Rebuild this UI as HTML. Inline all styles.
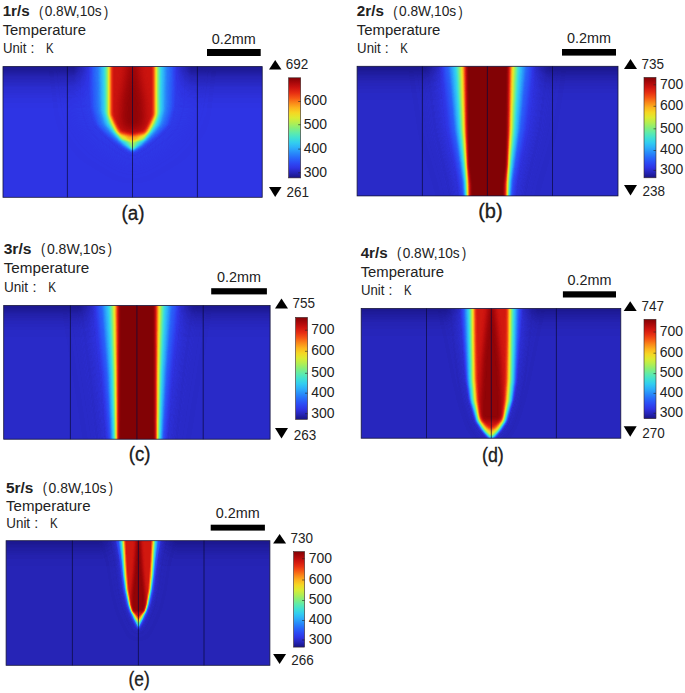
<!DOCTYPE html>
<html><head><meta charset="utf-8"><title>Temperature</title>
<style>html,body{margin:0;padding:0;background:#fff}svg{display:block}text{font-family:"Liberation Sans",sans-serif;fill:#222}</style>
</head><body>
<svg width="685" height="693" viewBox="0 0 685 693">
<defs>
<filter id="jet" x="0" y="0" width="100%" height="100%" filterUnits="objectBoundingBox" color-interpolation-filters="sRGB">
<feComponentTransfer><feFuncR type="table" tableValues="0.094 0.149 0.184 0.173 0.157 0.157 0.176 0.196 0.255 0.373 0.529 0.706 0.863 0.961 0.988 0.980 0.961 0.902 0.804 0.667 0.510"/><feFuncG type="table" tableValues="0.078 0.141 0.204 0.294 0.412 0.549 0.686 0.804 0.882 0.922 0.933 0.933 0.922 0.843 0.706 0.529 0.333 0.176 0.078 0.031 0.008"/><feFuncB type="table" tableValues="0.510 0.714 0.894 0.961 0.980 0.980 0.980 0.941 0.824 0.667 0.471 0.314 0.196 0.137 0.118 0.098 0.078 0.071 0.059 0.039 0.020"/></feComponentTransfer>
</filter>
<linearGradient id="cb" x1="0" y1="0" x2="0" y2="1"><stop offset="0.000" stop-color="rgb(130,2,5)"/><stop offset="0.050" stop-color="rgb(170,8,10)"/><stop offset="0.100" stop-color="rgb(205,20,15)"/><stop offset="0.150" stop-color="rgb(230,45,18)"/><stop offset="0.200" stop-color="rgb(245,85,20)"/><stop offset="0.250" stop-color="rgb(250,135,25)"/><stop offset="0.300" stop-color="rgb(252,180,30)"/><stop offset="0.350" stop-color="rgb(245,215,35)"/><stop offset="0.400" stop-color="rgb(220,235,50)"/><stop offset="0.450" stop-color="rgb(180,238,80)"/><stop offset="0.500" stop-color="rgb(135,238,120)"/><stop offset="0.550" stop-color="rgb(95,235,170)"/><stop offset="0.600" stop-color="rgb(65,225,210)"/><stop offset="0.650" stop-color="rgb(50,205,240)"/><stop offset="0.700" stop-color="rgb(45,175,250)"/><stop offset="0.750" stop-color="rgb(40,140,250)"/><stop offset="0.800" stop-color="rgb(40,105,250)"/><stop offset="0.850" stop-color="rgb(44,75,245)"/><stop offset="0.900" stop-color="rgb(47,52,228)"/><stop offset="0.950" stop-color="rgb(38,36,182)"/><stop offset="1.000" stop-color="rgb(24,20,130)"/></linearGradient>
</defs>
<clipPath id="clip_a"><rect x="3.0" y="66.6" width="259.2" height="130.7"/></clipPath>
<g clip-path="url(#clip_a)"><g filter="url(#jet)">
<rect x="-27.0" y="36.6" width="319.2" height="190.7" fill="rgb(26,26,26)"/>
<polygon points="192.5,46.6 192.5,66.6 186.5,115.0 168.5,140.0 132.5,162.0 132.5,162.0 96.5,140.0 78.5,115.0 72.5,66.6 72.5,46.6" fill="rgb(30,30,30)" filter="url(#b10)"/>
<polygon points="177.5,46.6 177.5,66.6 177.4,69.1 177.3,71.6 177.2,74.1 177.1,76.6 177.0,79.1 176.9,81.6 176.8,84.1 176.7,86.6 176.6,89.1 176.5,91.6 176.4,94.1 176.3,96.6 176.2,99.1 176.1,101.6 176.0,104.1 175.5,106.6 174.8,109.1 174.1,111.6 173.4,114.1 172.6,116.6 171.9,119.1 171.2,121.6 170.4,124.1 167.9,126.6 165.4,129.1 162.9,131.6 159.6,134.1 156.2,136.6 152.7,139.1 149.2,141.6 145.6,144.1 142.1,146.6 137.7,149.1 133.2,151.6 132.5,152.6 132.5,152.6 131.8,151.6 127.3,149.1 122.9,146.6 119.4,144.1 115.8,141.6 112.3,139.1 108.8,136.6 105.4,134.1 102.1,131.6 99.6,129.1 97.1,126.6 94.6,124.1 93.8,121.6 93.1,119.1 92.4,116.6 91.6,114.1 90.9,111.6 90.2,109.1 89.5,106.6 89.0,104.1 88.9,101.6 88.8,99.1 88.7,96.6 88.6,94.1 88.5,91.6 88.4,89.1 88.3,86.6 88.2,84.1 88.1,81.6 88.0,79.1 87.9,76.6 87.8,74.1 87.7,71.6 87.6,69.1 87.5,66.6 87.5,46.6" fill="rgb(33,33,33)" filter="url(#b3_5)"/>
<polygon points="175.0,46.6 175.0,66.6 174.9,69.1 174.8,71.6 174.7,74.1 174.6,76.6 174.6,79.1 174.5,81.6 174.4,84.1 174.3,86.6 174.2,89.1 174.1,91.6 174.0,94.1 173.9,96.6 173.9,99.1 173.8,101.6 173.7,104.1 173.3,106.6 172.7,109.1 172.1,111.6 171.4,114.1 170.6,116.6 169.9,119.1 169.2,121.6 168.4,124.1 166.0,126.6 163.6,129.1 161.1,131.6 158.0,134.1 154.8,136.6 151.6,139.1 148.3,141.6 144.8,144.1 141.3,146.6 137.0,149.1 132.8,151.6 132.5,152.2 132.5,152.2 132.2,151.6 128.0,149.1 123.7,146.6 120.2,144.1 116.7,141.6 113.4,139.1 110.2,136.6 107.0,134.1 103.9,131.6 101.4,129.1 99.0,126.6 96.6,124.1 95.8,121.6 95.1,119.1 94.4,116.6 93.6,114.1 92.9,111.6 92.3,109.1 91.7,106.6 91.3,104.1 91.2,101.6 91.1,99.1 91.1,96.6 91.0,94.1 90.9,91.6 90.8,89.1 90.7,86.6 90.6,84.1 90.5,81.6 90.4,79.1 90.4,76.6 90.3,74.1 90.2,71.6 90.1,69.1 90.0,66.6 90.0,46.6" fill="rgb(41,41,41)" filter="url(#b1_5)"/>
<polygon points="171.7,46.6 171.7,66.6 171.6,69.1 171.5,71.6 171.4,74.1 171.4,76.6 171.3,79.1 171.2,81.6 171.1,84.1 171.1,86.6 171.0,89.1 170.9,91.6 170.8,94.1 170.8,96.6 170.7,99.1 170.6,101.6 170.6,104.1 170.3,106.6 170.0,109.1 169.4,111.6 168.7,114.1 168.0,116.6 167.2,119.1 166.5,121.6 165.7,124.1 163.4,126.6 161.1,129.1 158.8,131.6 156.0,134.1 153.0,136.6 150.1,139.1 147.0,141.6 143.7,144.1 140.3,146.6 136.0,149.1 132.5,151.4 132.5,151.4 129.0,149.1 124.7,146.6 121.3,144.1 118.0,141.6 114.9,139.1 112.0,136.6 109.0,134.1 106.2,131.6 103.9,129.1 101.6,126.6 99.3,124.1 98.5,121.6 97.8,119.1 97.0,116.6 96.3,114.1 95.6,111.6 95.0,109.1 94.7,106.6 94.4,104.1 94.4,101.6 94.3,99.1 94.2,96.6 94.2,94.1 94.1,91.6 94.0,89.1 93.9,86.6 93.9,84.1 93.8,81.6 93.7,79.1 93.6,76.6 93.6,74.1 93.5,71.6 93.4,69.1 93.3,66.6 93.3,46.6" fill="rgb(51,51,51)" filter="url(#b2)"/>
<polygon points="167.5,46.6 167.5,66.6 167.4,69.1 167.4,71.6 167.3,74.1 167.3,76.6 167.2,79.1 167.2,81.6 167.1,84.1 167.0,86.6 167.0,89.1 166.9,91.6 166.9,94.1 166.8,96.6 166.8,99.1 166.7,101.6 166.6,104.1 166.6,106.6 166.5,109.1 166.0,111.6 165.3,114.1 164.6,116.6 163.9,119.1 163.2,121.6 162.4,124.1 160.2,126.6 158.0,129.1 155.8,131.6 153.3,134.1 150.8,136.6 148.2,139.1 145.4,141.6 142.3,144.1 139.0,146.6 134.8,149.1 132.5,150.8 132.5,150.8 130.2,149.1 126.0,146.6 122.7,144.1 119.6,141.6 116.8,139.1 114.2,136.6 111.7,134.1 109.1,131.6 107.0,129.1 104.8,126.6 102.6,124.1 101.8,121.6 101.1,119.1 100.4,116.6 99.7,114.1 99.0,111.6 98.5,109.1 98.4,106.6 98.4,104.1 98.3,101.6 98.2,99.1 98.2,96.6 98.1,94.1 98.1,91.6 98.0,89.1 98.0,86.6 97.9,84.1 97.8,81.6 97.8,79.1 97.7,76.6 97.7,74.1 97.6,71.6 97.6,69.1 97.5,66.6 97.5,46.6" fill="rgb(64,64,64)" filter="url(#b2_5)"/>
<polygon points="164.9,46.6 164.9,66.6 164.9,69.1 164.8,71.6 164.8,74.1 164.7,76.6 164.7,79.1 164.6,81.6 164.6,84.1 164.5,86.6 164.5,89.1 164.4,91.6 164.4,94.1 164.4,96.6 164.3,99.1 164.3,101.6 164.2,104.1 164.2,106.6 164.1,109.1 163.8,111.6 163.1,114.1 162.4,116.6 161.7,119.1 161.0,121.6 160.2,124.1 158.2,126.6 156.1,129.1 154.1,131.6 151.8,134.1 149.4,136.6 147.0,139.1 144.3,141.6 141.4,144.1 138.1,146.6 134.1,149.1 132.5,150.6 132.5,150.6 130.9,149.1 126.9,146.6 123.6,144.1 120.7,141.6 118.0,139.1 115.6,136.6 113.2,134.1 110.9,131.6 108.9,129.1 106.8,126.6 104.8,124.1 104.0,121.6 103.3,119.1 102.6,116.6 101.9,114.1 101.2,111.6 100.9,109.1 100.8,106.6 100.8,104.1 100.7,101.6 100.7,99.1 100.6,96.6 100.6,94.1 100.6,91.6 100.5,89.1 100.5,86.6 100.4,84.1 100.4,81.6 100.3,79.1 100.3,76.6 100.2,74.1 100.2,71.6 100.1,69.1 100.1,66.6 100.1,46.6" fill="rgb(79,79,79)" filter="url(#b1_5)"/>
<polygon points="161.9,46.6 161.9,66.6 161.8,69.1 161.8,71.6 161.8,74.1 161.7,76.6 161.7,79.1 161.7,81.6 161.6,84.1 161.6,86.6 161.6,89.1 161.6,91.6 161.5,94.1 161.5,96.6 161.5,99.1 161.4,101.6 161.4,104.1 161.4,106.6 161.3,109.1 161.2,111.6 160.6,114.1 159.9,116.6 159.1,119.1 158.4,121.6 157.6,124.1 155.7,126.6 153.9,129.1 152.1,131.6 150.0,134.1 147.8,136.6 145.5,139.1 143.0,141.6 140.3,144.1 137.0,146.6 133.3,149.1 132.5,150.2 132.5,150.2 131.7,149.1 128.0,146.6 124.7,144.1 122.0,141.6 119.5,139.1 117.2,136.6 115.0,134.1 112.9,131.6 111.1,129.1 109.3,126.6 107.4,124.1 106.6,121.6 105.9,119.1 105.1,116.6 104.4,114.1 103.8,111.6 103.7,109.1 103.6,106.6 103.6,104.1 103.6,101.6 103.5,99.1 103.5,96.6 103.5,94.1 103.4,91.6 103.4,89.1 103.4,86.6 103.4,84.1 103.3,81.6 103.3,79.1 103.3,76.6 103.2,74.1 103.2,71.6 103.2,69.1 103.1,66.6 103.1,46.6" fill="rgb(97,97,97)" filter="url(#b1_5)"/>
<polygon points="159.7,46.6 159.7,66.6 159.7,69.1 159.7,71.6 159.7,74.1 159.6,76.6 159.6,79.1 159.6,81.6 159.6,84.1 159.6,86.6 159.5,89.1 159.5,91.6 159.5,94.1 159.5,96.6 159.5,99.1 159.4,101.6 159.4,104.1 159.4,106.6 159.4,109.1 159.4,111.6 158.9,114.1 158.1,116.6 157.4,119.1 156.5,121.6 155.6,124.1 154.0,126.6 152.4,129.1 150.7,131.6 148.6,134.1 146.5,136.6 144.4,139.1 139.8,141.6 137.8,144.1 135.4,146.6 132.7,149.1 132.5,149.5 132.5,149.5 132.3,149.1 129.6,146.6 127.2,144.1 125.2,141.6 120.6,139.1 118.5,136.6 116.4,134.1 114.3,131.6 112.6,129.1 111.0,126.6 109.4,124.1 108.5,121.6 107.6,119.1 106.9,116.6 106.1,114.1 105.6,111.6 105.6,109.1 105.6,106.6 105.6,104.1 105.6,101.6 105.5,99.1 105.5,96.6 105.5,94.1 105.5,91.6 105.5,89.1 105.4,86.6 105.4,84.1 105.4,81.6 105.4,79.1 105.4,76.6 105.3,74.1 105.3,71.6 105.3,69.1 105.3,66.6 105.3,46.6" fill="rgb(117,117,117)" filter="url(#b1)"/>
<polygon points="158.0,46.6 158.0,66.6 158.0,69.1 158.0,71.6 158.0,74.1 158.0,76.6 158.0,79.1 158.0,81.6 157.9,84.1 157.9,86.6 157.9,89.1 157.9,91.6 157.9,94.1 157.9,96.6 157.9,99.1 157.9,101.6 157.9,104.1 157.8,106.6 157.8,109.1 157.8,111.6 157.6,114.1 156.9,116.6 156.1,119.1 155.1,121.6 154.1,124.1 152.6,126.6 151.1,129.1 149.5,131.6 147.4,134.1 145.5,136.6 143.4,139.1 136.1,141.6 135.0,144.1 133.7,146.6 132.5,148.5 132.5,148.5 131.3,146.6 130.0,144.1 128.9,141.6 121.6,139.1 119.5,136.6 117.6,134.1 115.5,131.6 113.9,129.1 112.4,126.6 110.9,124.1 109.9,121.6 108.9,119.1 108.1,116.6 107.4,114.1 107.2,111.6 107.2,109.1 107.2,106.6 107.1,104.1 107.1,101.6 107.1,99.1 107.1,96.6 107.1,94.1 107.1,91.6 107.1,89.1 107.1,86.6 107.1,84.1 107.0,81.6 107.0,79.1 107.0,76.6 107.0,74.1 107.0,71.6 107.0,69.1 107.0,66.6 107.0,46.6" fill="rgb(138,138,138)" filter="url(#b1)"/>
<polygon points="156.3,46.6 156.3,66.6 156.3,69.1 156.3,71.6 156.3,74.1 156.3,76.6 156.3,79.1 156.3,81.6 156.3,84.1 156.3,86.6 156.3,89.1 156.3,91.6 156.3,94.1 156.3,96.6 156.3,99.1 156.3,101.6 156.3,104.1 156.3,106.6 156.3,109.1 156.3,111.6 156.2,114.1 155.6,116.6 154.7,119.1 153.7,121.6 152.5,124.1 151.2,126.6 149.9,129.1 148.4,131.6 146.2,134.1 144.4,136.6 142.4,139.1 132.5,141.6 132.5,141.6 122.6,139.1 120.6,136.6 118.8,134.1 116.6,131.6 115.1,129.1 113.8,126.6 112.5,124.1 111.3,121.6 110.3,119.1 109.4,116.6 108.8,114.1 108.7,111.6 108.7,109.1 108.7,106.6 108.7,104.1 108.7,101.6 108.7,99.1 108.7,96.6 108.7,94.1 108.7,91.6 108.7,89.1 108.7,86.6 108.7,84.1 108.7,81.6 108.7,79.1 108.7,76.6 108.7,74.1 108.7,71.6 108.7,69.1 108.7,66.6 108.7,46.6" fill="rgb(158,158,158)" filter="url(#b1)"/>
<polygon points="155.4,46.6 155.4,66.6 155.4,69.1 155.4,71.6 155.4,74.1 155.4,76.6 155.4,79.1 155.4,81.6 155.4,84.1 155.4,86.6 155.4,89.1 155.4,91.6 155.4,94.1 155.4,96.6 155.4,99.1 155.4,101.6 155.4,104.1 155.4,106.6 155.4,109.1 155.4,111.6 155.4,114.1 154.7,116.6 153.8,119.1 152.7,121.6 151.5,124.1 150.3,126.6 149.0,129.1 147.6,131.6 145.2,134.1 139.4,136.6 138.2,139.1 132.5,141.2 132.5,141.2 126.8,139.1 125.6,136.6 119.8,134.1 117.4,131.6 116.0,129.1 114.7,126.6 113.5,124.1 112.3,121.6 111.2,119.1 110.3,116.6 109.5,114.1 109.5,111.6 109.5,109.1 109.5,106.6 109.5,104.1 109.5,101.6 109.5,99.1 109.5,96.6 109.5,94.1 109.5,91.6 109.5,89.1 109.5,86.6 109.5,84.1 109.5,81.6 109.5,79.1 109.5,76.6 109.5,74.1 109.5,71.6 109.5,69.1 109.5,66.6 109.5,46.6" fill="rgb(178,178,178)" filter="url(#b0_8)"/>
<polygon points="154.7,46.6 154.7,66.6 154.7,69.1 154.7,71.6 154.7,74.1 154.7,76.6 154.7,79.1 154.7,81.6 154.7,84.1 154.7,86.6 154.7,89.1 154.7,91.6 154.7,94.1 154.7,96.6 154.7,99.1 154.7,101.6 154.7,104.1 154.7,106.6 154.7,109.1 154.7,111.6 154.7,114.1 153.9,116.6 152.9,119.1 151.7,121.6 150.5,124.1 149.2,126.6 148.0,129.1 146.6,131.6 144.0,134.1 132.5,136.4 132.5,136.4 121.0,134.1 118.4,131.6 117.0,129.1 115.8,126.6 114.5,124.1 113.3,121.6 112.1,119.1 111.1,116.6 110.3,114.1 110.3,111.6 110.3,109.1 110.3,106.6 110.3,104.1 110.3,101.6 110.3,99.1 110.3,96.6 110.3,94.1 110.3,91.6 110.3,89.1 110.3,86.6 110.3,84.1 110.3,81.6 110.3,79.1 110.3,76.6 110.3,74.1 110.3,71.6 110.3,69.1 110.3,66.6 110.3,46.6" fill="rgb(204,204,204)" filter="url(#b0_8)"/>
<polygon points="152.9,46.6 152.9,66.6 152.9,69.1 152.9,71.6 152.9,74.1 152.9,76.6 152.9,79.1 152.9,81.6 152.9,84.1 152.9,86.6 152.9,89.1 152.9,91.6 152.9,94.1 152.9,96.6 152.9,99.1 152.9,101.6 152.9,104.1 152.9,106.6 152.9,109.1 152.9,111.6 152.9,114.1 152.1,116.6 151.0,119.1 149.8,121.6 148.6,124.1 147.2,126.6 145.8,129.1 143.9,131.6 132.5,133.9 132.5,133.9 121.1,131.6 119.2,129.1 117.8,126.6 116.4,124.1 115.2,121.6 114.0,119.1 112.9,116.6 112.1,114.1 112.1,111.6 112.1,109.1 112.1,106.6 112.1,104.1 112.1,101.6 112.1,99.1 112.1,96.6 112.1,94.1 112.1,91.6 112.1,89.1 112.1,86.6 112.1,84.1 112.1,81.6 112.1,79.1 112.1,76.6 112.1,74.1 112.1,71.6 112.1,69.1 112.1,66.6 112.1,46.6" fill="rgb(230,230,230)" filter="url(#b1)"/>
<polygon points="137.5,46.6 137.5,66.6 140.5,85.0 143.5,100.0 144.5,120.0 142.5,128.0 132.5,131.5 132.5,131.5 122.5,128.0 120.5,120.0 121.5,100.0 124.5,85.0 127.5,66.6 127.5,46.6" fill="rgb(255,255,255)" opacity="0.80" filter="url(#b4)"/>
<linearGradient id="td_a" x1="0" y1="0" x2="0" y2="1"><stop offset="0" stop-color="#000" stop-opacity="0.85"/><stop offset="0.12" stop-color="#000" stop-opacity="0.72"/><stop offset="0.25" stop-color="#000" stop-opacity="0.51"/><stop offset="0.5" stop-color="#000" stop-opacity="0.23"/><stop offset="0.75" stop-color="#000" stop-opacity="0.07"/><stop offset="1" stop-color="#000" stop-opacity="0.00"/></linearGradient>
<linearGradient id="mg_a" gradientUnits="userSpaceOnUse" x1="-27.0" y1="0" x2="292.2" y2="0"><stop offset="0.0000" stop-color="#fff"/><stop offset="0.3148" stop-color="#fff"/><stop offset="0.3775" stop-color="#000"/><stop offset="0.6219" stop-color="#000"/><stop offset="0.6845" stop-color="#fff"/><stop offset="1.0000" stop-color="#fff"/></linearGradient>
<mask id="mk_a" maskUnits="userSpaceOnUse" x="-27.0" y="65.6" width="319.2" height="44.0"><rect x="-27.0" y="65.6" width="319.2" height="44.0" fill="url(#mg_a)"/></mask>
<rect x="-27.0" y="66.6" width="319.2" height="42.0" fill="url(#td_a)" mask="url(#mk_a)"/>
</g></g>
<rect x="3.0" y="66.6" width="259.2" height="130.7" fill="none" stroke="#15153a" stroke-width="0.8"/>
<line x1="67.4" y1="66.6" x2="67.4" y2="197.3" stroke="#0a0a3c" stroke-width="0.7"/>
<line x1="132.5" y1="66.6" x2="132.5" y2="197.3" stroke="#0a0a3c" stroke-width="0.7"/>
<line x1="197.4" y1="66.6" x2="197.4" y2="197.3" stroke="#0a0a3c" stroke-width="0.7"/>
<text x="2.7" y="16.4" font-size="14.50" textLength="27.0" lengthAdjust="spacingAndGlyphs" font-weight="bold">1r/s</text>
<text x="39.0" y="16.7" font-size="15.00" textLength="4.2" lengthAdjust="spacingAndGlyphs">(</text>
<text x="44.7" y="16.4" font-size="14.00" textLength="57.0" lengthAdjust="spacingAndGlyphs">0.8W,10s</text>
<text x="104.0" y="16.7" font-size="15.00" textLength="4.2" lengthAdjust="spacingAndGlyphs">)</text>
<text x="2.7" y="34.8" font-size="14.00" textLength="83.3" lengthAdjust="spacingAndGlyphs">Temperature</text>
<text x="3.0" y="53.2" font-size="14.00" textLength="23.4" lengthAdjust="spacingAndGlyphs">Unit</text>
<text x="30.6" y="53.2" font-size="14.00">:</text>
<text x="46.0" y="53.2" font-size="14.00" textLength="7.6" lengthAdjust="spacingAndGlyphs">K</text>
<rect x="207.0" y="49.0" width="53.7" height="7.0" fill="#000"/>
<text x="211.8" y="43.7" font-size="14.00" textLength="44.0" lengthAdjust="spacingAndGlyphs">0.2mm</text>
<path d="M269.0 69.5L281.5 69.5L275.2 60.0Z" fill="#000"/>
<path d="M269.0 187.0L281.5 187.0L275.2 197.0Z" fill="#000"/>
<text x="285.7" y="69.1" font-size="14.00" textLength="22.5" lengthAdjust="spacingAndGlyphs">692</text>
<text x="286.5" y="197.3" font-size="14.00" textLength="22.5" lengthAdjust="spacingAndGlyphs">261</text>
<rect x="288.6" y="77.8" width="12.1" height="100.1" fill="url(#cb)" stroke="#3a2a2a" stroke-width="0.6"/>
<text x="303.7" y="105.3" font-size="14.00" textLength="23.3" lengthAdjust="spacingAndGlyphs">600</text>
<line x1="298.2" y1="101.5" x2="300.7" y2="101.5" stroke="#222" stroke-width="0.6"/>
<text x="303.7" y="128.5" font-size="14.00" textLength="23.3" lengthAdjust="spacingAndGlyphs">500</text>
<line x1="298.2" y1="124.7" x2="300.7" y2="124.7" stroke="#222" stroke-width="0.6"/>
<text x="303.7" y="152.9" font-size="14.00" textLength="23.3" lengthAdjust="spacingAndGlyphs">400</text>
<line x1="298.2" y1="149.1" x2="300.7" y2="149.1" stroke="#222" stroke-width="0.6"/>
<text x="303.7" y="176.6" font-size="14.00" textLength="23.3" lengthAdjust="spacingAndGlyphs">300</text>
<line x1="298.2" y1="172.8" x2="300.7" y2="172.8" stroke="#222" stroke-width="0.6"/>
<text x="121.6" y="219.6" font-size="20.0" textLength="23.0" lengthAdjust="spacingAndGlyphs" fill="#111" stroke="#111" stroke-width="0.3">(a)</text>
<clipPath id="clip_b"><rect x="357.1" y="66.3" width="260.9" height="129.6"/></clipPath>
<g clip-path="url(#clip_b)"><g filter="url(#jet)">
<rect x="327.1" y="36.3" width="320.9" height="189.6" fill="rgb(18,18,18)"/>
<polygon points="545.4,46.3 545.4,66.3 545.0,68.8 544.6,71.3 544.2,73.8 543.8,76.3 543.4,78.8 543.0,81.3 542.7,83.8 542.3,86.3 541.9,88.8 541.5,91.3 541.1,93.8 540.7,96.3 540.3,98.8 539.9,101.3 539.5,103.8 539.1,106.3 538.7,108.8 538.3,111.3 537.9,113.8 537.6,116.3 537.2,118.8 536.8,121.3 536.4,123.8 536.0,126.3 535.6,128.8 535.0,131.3 534.3,133.8 533.5,136.3 532.8,138.8 532.1,141.3 531.3,143.8 530.6,146.3 529.9,148.8 529.1,151.3 528.4,153.8 527.7,156.3 526.9,158.8 526.2,161.3 525.5,163.8 524.7,166.3 524.0,168.8 523.3,171.3 522.5,173.8 521.8,176.3 521.0,178.8 520.3,181.3 519.8,183.8 519.2,186.3 518.6,188.8 518.0,191.3 517.5,193.8 516.9,196.3 516.3,198.8 515.7,201.3 515.2,203.8 514.6,206.3 514.0,208.8 513.5,211.3 512.9,213.8 461.9,213.8 461.3,211.3 460.8,208.8 460.2,206.3 459.6,203.8 459.1,201.3 458.5,198.8 457.9,196.3 457.3,193.8 456.8,191.3 456.2,188.8 455.6,186.3 455.0,183.8 454.5,181.3 453.8,178.8 453.0,176.3 452.3,173.8 451.5,171.3 450.8,168.8 450.1,166.3 449.3,163.8 448.6,161.3 447.9,158.8 447.1,156.3 446.4,153.8 445.7,151.3 444.9,148.8 444.2,146.3 443.5,143.8 442.7,141.3 442.0,138.8 441.3,136.3 440.5,133.8 439.8,131.3 439.2,128.8 438.8,126.3 438.4,123.8 438.0,121.3 437.6,118.8 437.2,116.3 436.9,113.8 436.5,111.3 436.1,108.8 435.7,106.3 435.3,103.8 434.9,101.3 434.5,98.8 434.1,96.3 433.7,93.8 433.3,91.3 432.9,88.8 432.5,86.3 432.1,83.8 431.8,81.3 431.4,78.8 431.0,76.3 430.6,73.8 430.2,71.3 429.8,68.8 429.4,66.3 429.4,46.3" fill="rgb(23,23,23)" filter="url(#b9)"/>
<polygon points="535.4,46.3 535.4,66.3 535.1,68.8 534.8,71.3 534.5,73.8 534.1,76.3 533.8,78.8 533.5,81.3 533.2,83.8 532.9,86.3 532.6,88.8 532.3,91.3 531.9,93.8 531.6,96.3 531.3,98.8 531.0,101.3 530.7,103.8 530.4,106.3 530.1,108.8 529.7,111.3 529.4,113.8 529.1,116.3 528.8,118.8 528.5,121.3 528.2,123.8 527.9,126.3 527.6,128.8 527.1,131.3 526.5,133.8 525.9,136.3 525.3,138.8 524.7,141.3 524.2,143.8 523.6,146.3 523.0,148.8 522.4,151.3 521.8,153.8 521.2,156.3 520.6,158.8 520.0,161.3 519.4,163.8 518.9,166.3 518.3,168.8 517.7,171.3 517.1,173.8 516.5,176.3 515.9,178.8 515.4,181.3 515.0,183.8 514.6,186.3 514.2,188.8 513.8,191.3 513.4,193.8 513.0,196.3 512.6,198.8 512.2,201.3 511.8,203.8 511.4,206.3 511.0,208.8 510.6,211.3 510.2,213.8 464.6,213.8 464.2,211.3 463.8,208.8 463.4,206.3 463.0,203.8 462.6,201.3 462.2,198.8 461.8,196.3 461.4,193.8 461.0,191.3 460.6,188.8 460.2,186.3 459.8,183.8 459.4,181.3 458.9,178.8 458.3,176.3 457.7,173.8 457.1,171.3 456.5,168.8 455.9,166.3 455.4,163.8 454.8,161.3 454.2,158.8 453.6,156.3 453.0,153.8 452.4,151.3 451.8,148.8 451.2,146.3 450.6,143.8 450.1,141.3 449.5,138.8 448.9,136.3 448.3,133.8 447.7,131.3 447.2,128.8 446.9,126.3 446.6,123.8 446.3,121.3 446.0,118.8 445.7,116.3 445.4,113.8 445.1,111.3 444.7,108.8 444.4,106.3 444.1,103.8 443.8,101.3 443.5,98.8 443.2,96.3 442.9,93.8 442.5,91.3 442.2,88.8 441.9,86.3 441.6,83.8 441.3,81.3 441.0,78.8 440.7,76.3 440.3,73.8 440.0,71.3 439.7,68.8 439.4,66.3 439.4,46.3" fill="rgb(31,31,31)" filter="url(#b5_5)"/>
<polygon points="531.8,46.3 531.8,66.3 531.5,68.8 531.3,71.3 531.0,73.8 530.7,76.3 530.4,78.8 530.1,81.3 529.8,83.8 529.5,86.3 529.2,88.8 528.9,91.3 528.6,93.8 528.3,96.3 528.0,98.8 527.7,101.3 527.4,103.8 527.1,106.3 526.8,108.8 526.5,111.3 526.2,113.8 525.9,116.3 525.6,118.8 525.3,121.3 525.0,123.8 524.7,126.3 524.4,128.8 524.0,131.3 523.5,133.8 523.0,136.3 522.5,138.8 522.0,141.3 521.5,143.8 521.0,146.3 520.4,148.8 519.9,151.3 519.4,153.8 518.9,156.3 518.4,158.8 517.9,161.3 517.4,163.8 516.9,166.3 516.3,168.8 515.8,171.3 515.3,173.8 514.8,176.3 514.3,178.8 513.8,181.3 513.5,183.8 513.2,186.3 512.8,188.8 512.5,191.3 512.2,193.8 511.9,196.3 511.6,198.8 511.2,201.3 510.9,203.8 510.6,206.3 510.3,208.8 510.0,211.3 509.6,213.8 465.2,213.8 464.8,211.3 464.5,208.8 464.2,206.3 463.9,203.8 463.6,201.3 463.2,198.8 462.9,196.3 462.6,193.8 462.3,191.3 462.0,188.8 461.6,186.3 461.3,183.8 461.0,181.3 460.5,178.8 460.0,176.3 459.5,173.8 459.0,171.3 458.5,168.8 457.9,166.3 457.4,163.8 456.9,161.3 456.4,158.8 455.9,156.3 455.4,153.8 454.9,151.3 454.4,148.8 453.8,146.3 453.3,143.8 452.8,141.3 452.3,138.8 451.8,136.3 451.3,133.8 450.8,131.3 450.4,128.8 450.1,126.3 449.8,123.8 449.5,121.3 449.2,118.8 448.9,116.3 448.6,113.8 448.3,111.3 448.0,108.8 447.7,106.3 447.4,103.8 447.1,101.3 446.8,98.8 446.5,96.3 446.2,93.8 445.9,91.3 445.6,88.8 445.3,86.3 445.0,83.8 444.7,81.3 444.4,78.8 444.1,76.3 443.8,73.8 443.5,71.3 443.3,68.8 443.0,66.3 443.0,46.3" fill="rgb(41,41,41)" filter="url(#b2)"/>
<polygon points="527.4,46.3 527.4,66.3 527.1,68.8 526.9,71.3 526.6,73.8 526.3,76.3 526.0,78.8 525.8,81.3 525.5,83.8 525.2,86.3 524.9,88.8 524.7,91.3 524.4,93.8 524.1,96.3 523.8,98.8 523.6,101.3 523.3,103.8 523.0,106.3 522.7,108.8 522.5,111.3 522.2,113.8 521.9,116.3 521.6,118.8 521.4,121.3 521.1,123.8 520.8,126.3 520.5,128.8 520.2,131.3 519.8,133.8 519.4,136.3 518.9,138.8 518.5,141.3 518.1,143.8 517.7,146.3 517.3,148.8 516.9,151.3 516.4,153.8 516.0,156.3 515.6,158.8 515.2,161.3 514.8,163.8 514.4,166.3 513.9,168.8 513.5,171.3 513.1,173.8 512.7,176.3 512.3,178.8 511.9,181.3 511.6,183.8 511.4,186.3 511.2,188.8 511.0,191.3 510.7,193.8 510.5,196.3 510.3,198.8 510.0,201.3 509.8,203.8 509.6,206.3 509.4,208.8 509.1,211.3 508.9,213.8 465.9,213.8 465.7,211.3 465.4,208.8 465.2,206.3 465.0,203.8 464.8,201.3 464.5,198.8 464.3,196.3 464.1,193.8 463.8,191.3 463.6,188.8 463.4,186.3 463.2,183.8 462.9,181.3 462.5,178.8 462.1,176.3 461.7,173.8 461.3,171.3 460.9,168.8 460.4,166.3 460.0,163.8 459.6,161.3 459.2,158.8 458.8,156.3 458.4,153.8 457.9,151.3 457.5,148.8 457.1,146.3 456.7,143.8 456.3,141.3 455.9,138.8 455.4,136.3 455.0,133.8 454.6,131.3 454.3,128.8 454.0,126.3 453.7,123.8 453.4,121.3 453.2,118.8 452.9,116.3 452.6,113.8 452.3,111.3 452.1,108.8 451.8,106.3 451.5,103.8 451.2,101.3 451.0,98.8 450.7,96.3 450.4,93.8 450.1,91.3 449.9,88.8 449.6,86.3 449.3,83.8 449.0,81.3 448.8,78.8 448.5,76.3 448.2,73.8 447.9,71.3 447.7,68.8 447.4,66.3 447.4,46.3" fill="rgb(54,54,54)" filter="url(#b2_5)"/>
<polygon points="525.1,46.3 525.1,66.3 524.9,68.8 524.7,71.3 524.4,73.8 524.2,76.3 523.9,78.8 523.7,81.3 523.4,83.8 523.2,86.3 523.0,88.8 522.7,91.3 522.5,93.8 522.2,96.3 522.0,98.8 521.8,101.3 521.5,103.8 521.3,106.3 521.0,108.8 520.8,111.3 520.6,113.8 520.3,116.3 520.1,118.8 519.8,121.3 519.6,123.8 519.3,126.3 519.1,128.8 518.8,131.3 518.4,133.8 518.0,136.3 517.6,138.8 517.3,141.3 516.9,143.8 516.5,146.3 516.1,148.8 515.7,151.3 515.4,153.8 515.0,156.3 514.6,158.8 514.2,161.3 513.8,163.8 513.5,166.3 513.1,168.8 512.7,171.3 512.3,173.8 511.9,176.3 511.6,178.8 511.2,181.3 511.0,183.8 510.8,186.3 510.6,188.8 510.4,191.3 510.2,193.8 510.0,196.3 509.8,198.8 509.6,201.3 509.4,203.8 509.2,206.3 509.0,208.8 508.8,211.3 508.5,213.8 466.3,213.8 466.0,211.3 465.8,208.8 465.6,206.3 465.4,203.8 465.2,201.3 465.0,198.8 464.8,196.3 464.6,193.8 464.4,191.3 464.2,188.8 464.0,186.3 463.8,183.8 463.6,181.3 463.2,178.8 462.9,176.3 462.5,173.8 462.1,171.3 461.7,168.8 461.3,166.3 461.0,163.8 460.6,161.3 460.2,158.8 459.8,156.3 459.4,153.8 459.1,151.3 458.7,148.8 458.3,146.3 457.9,143.8 457.5,141.3 457.2,138.8 456.8,136.3 456.4,133.8 456.0,131.3 455.7,128.8 455.5,126.3 455.2,123.8 455.0,121.3 454.7,118.8 454.5,116.3 454.2,113.8 454.0,111.3 453.8,108.8 453.5,106.3 453.3,103.8 453.0,101.3 452.8,98.8 452.6,96.3 452.3,93.8 452.1,91.3 451.8,88.8 451.6,86.3 451.4,83.8 451.1,81.3 450.9,78.8 450.6,76.3 450.4,73.8 450.1,71.3 449.9,68.8 449.7,66.3 449.7,46.3" fill="rgb(66,66,66)" filter="url(#b1)"/>
<polygon points="522.4,46.3 522.4,66.3 522.2,68.8 522.0,71.3 521.8,73.8 521.6,76.3 521.4,78.8 521.2,81.3 521.0,83.8 520.8,86.3 520.6,88.8 520.4,91.3 520.2,93.8 520.0,96.3 519.8,98.8 519.6,101.3 519.4,103.8 519.2,106.3 519.0,108.8 518.8,111.3 518.6,113.8 518.4,116.3 518.2,118.8 518.0,121.3 517.8,123.8 517.6,126.3 517.4,128.8 517.1,131.3 516.8,133.8 516.4,136.3 516.1,138.8 515.8,141.3 515.4,143.8 515.1,146.3 514.8,148.8 514.4,151.3 514.1,153.8 513.7,156.3 513.4,158.8 513.1,161.3 512.7,163.8 512.4,166.3 512.1,168.8 511.7,171.3 511.4,173.8 511.0,176.3 510.7,178.8 510.4,181.3 510.2,183.8 510.0,186.3 509.9,188.8 509.7,191.3 509.5,193.8 509.3,196.3 509.2,198.8 509.0,201.3 508.8,203.8 508.7,206.3 508.5,208.8 508.3,211.3 508.1,213.8 466.7,213.8 466.5,211.3 466.3,208.8 466.1,206.3 466.0,203.8 465.8,201.3 465.6,198.8 465.5,196.3 465.3,193.8 465.1,191.3 464.9,188.8 464.8,186.3 464.6,183.8 464.4,181.3 464.1,178.8 463.8,176.3 463.4,173.8 463.1,171.3 462.7,168.8 462.4,166.3 462.1,163.8 461.7,161.3 461.4,158.8 461.1,156.3 460.7,153.8 460.4,151.3 460.0,148.8 459.7,146.3 459.4,143.8 459.0,141.3 458.7,138.8 458.4,136.3 458.0,133.8 457.7,131.3 457.4,128.8 457.2,126.3 457.0,123.8 456.8,121.3 456.6,118.8 456.4,116.3 456.2,113.8 456.0,111.3 455.8,108.8 455.6,106.3 455.4,103.8 455.2,101.3 455.0,98.8 454.8,96.3 454.6,93.8 454.4,91.3 454.2,88.8 454.0,86.3 453.8,83.8 453.6,81.3 453.4,78.8 453.2,76.3 453.0,73.8 452.8,71.3 452.6,68.8 452.4,66.3 452.4,46.3" fill="rgb(82,82,82)" filter="url(#b1_5)"/>
<polygon points="519.7,46.3 519.7,66.3 519.5,68.8 519.4,71.3 519.2,73.8 519.1,76.3 518.9,78.8 518.7,81.3 518.6,83.8 518.4,86.3 518.3,88.8 518.1,91.3 517.9,93.8 517.8,96.3 517.6,98.8 517.4,101.3 517.3,103.8 517.1,106.3 517.0,108.8 516.8,111.3 516.6,113.8 516.5,116.3 516.3,118.8 516.2,121.3 516.0,123.8 515.8,126.3 515.7,128.8 515.4,131.3 515.2,133.8 514.9,136.3 514.6,138.8 514.3,141.3 514.0,143.8 513.7,146.3 513.4,148.8 513.1,151.3 512.8,153.8 512.5,156.3 512.2,158.8 511.9,161.3 511.6,163.8 511.3,166.3 511.0,168.8 510.7,171.3 510.4,173.8 510.2,176.3 509.9,178.8 509.6,181.3 509.4,183.8 509.3,186.3 509.2,188.8 509.0,191.3 508.9,193.8 508.7,196.3 508.6,198.8 508.4,201.3 508.3,203.8 508.2,206.3 508.0,208.8 507.9,211.3 507.7,213.8 467.1,213.8 466.9,211.3 466.8,208.8 466.6,206.3 466.5,203.8 466.4,201.3 466.2,198.8 466.1,196.3 465.9,193.8 465.8,191.3 465.6,188.8 465.5,186.3 465.4,183.8 465.2,181.3 464.9,178.8 464.6,176.3 464.4,173.8 464.1,171.3 463.8,168.8 463.5,166.3 463.2,163.8 462.9,161.3 462.6,158.8 462.3,156.3 462.0,153.8 461.7,151.3 461.4,148.8 461.1,146.3 460.8,143.8 460.5,141.3 460.2,138.8 459.9,136.3 459.6,133.8 459.4,131.3 459.1,128.8 459.0,126.3 458.8,123.8 458.6,121.3 458.5,118.8 458.3,116.3 458.2,113.8 458.0,111.3 457.8,108.8 457.7,106.3 457.5,103.8 457.4,101.3 457.2,98.8 457.0,96.3 456.9,93.8 456.7,91.3 456.5,88.8 456.4,86.3 456.2,83.8 456.1,81.3 455.9,78.8 455.7,76.3 455.6,73.8 455.4,71.3 455.3,68.8 455.1,66.3 455.1,46.3" fill="rgb(97,97,97)" filter="url(#b1_5)"/>
<polygon points="517.7,46.3 517.7,66.3 517.6,68.8 517.4,71.3 517.3,73.8 517.1,76.3 517.0,78.8 516.9,81.3 516.7,83.8 516.6,86.3 516.5,88.8 516.3,91.3 516.2,93.8 516.0,96.3 515.9,98.8 515.8,101.3 515.6,103.8 515.5,106.3 515.3,108.8 515.2,111.3 515.1,113.8 514.9,116.3 514.8,118.8 514.6,121.3 514.5,123.8 514.4,126.3 514.2,128.8 514.0,131.3 513.8,133.8 513.5,136.3 513.3,138.8 513.0,141.3 512.8,143.8 512.5,146.3 512.2,148.8 512.0,151.3 511.7,153.8 511.5,156.3 511.2,158.8 511.0,161.3 510.7,163.8 510.4,166.3 510.2,168.8 509.9,171.3 509.7,173.8 509.4,176.3 509.2,178.8 508.9,181.3 508.8,183.8 508.7,186.3 508.5,188.8 508.4,191.3 508.3,193.8 508.2,196.3 508.0,198.8 507.9,201.3 507.8,203.8 507.7,206.3 507.6,208.8 507.4,211.3 507.3,213.8 467.5,213.8 467.4,211.3 467.2,208.8 467.1,206.3 467.0,203.8 466.9,201.3 466.8,198.8 466.6,196.3 466.5,193.8 466.4,191.3 466.3,188.8 466.1,186.3 466.0,183.8 465.9,181.3 465.6,178.8 465.4,176.3 465.1,173.8 464.9,171.3 464.6,168.8 464.4,166.3 464.1,163.8 463.8,161.3 463.6,158.8 463.3,156.3 463.1,153.8 462.8,151.3 462.6,148.8 462.3,146.3 462.0,143.8 461.8,141.3 461.5,138.8 461.3,136.3 461.0,133.8 460.8,131.3 460.6,128.8 460.4,126.3 460.3,123.8 460.2,121.3 460.0,118.8 459.9,116.3 459.7,113.8 459.6,111.3 459.5,108.8 459.3,106.3 459.2,103.8 459.0,101.3 458.9,98.8 458.8,96.3 458.6,93.8 458.5,91.3 458.3,88.8 458.2,86.3 458.1,83.8 457.9,81.3 457.8,78.8 457.7,76.3 457.5,73.8 457.4,71.3 457.2,68.8 457.1,66.3 457.1,46.3" fill="rgb(117,117,117)" filter="url(#b1)"/>
<polygon points="515.7,46.3 515.7,66.3 515.6,68.8 515.5,71.3 515.4,73.8 515.2,76.3 515.1,78.8 515.0,81.3 514.9,83.8 514.8,86.3 514.7,88.8 514.5,91.3 514.4,93.8 514.3,96.3 514.2,98.8 514.1,101.3 514.0,103.8 513.8,106.3 513.7,108.8 513.6,111.3 513.5,113.8 513.4,116.3 513.3,118.8 513.1,121.3 513.0,123.8 512.9,126.3 512.8,128.8 512.6,131.3 512.4,133.8 512.2,136.3 512.0,138.8 511.7,141.3 511.5,143.8 511.3,146.3 511.1,148.8 510.9,151.3 510.6,153.8 510.4,156.3 510.2,158.8 510.0,161.3 509.8,163.8 509.6,166.3 509.3,168.8 509.1,171.3 508.9,173.8 508.7,176.3 508.5,178.8 508.3,181.3 508.1,183.8 508.0,186.3 507.9,188.8 507.8,191.3 507.7,193.8 507.6,196.3 507.5,198.8 507.4,201.3 507.3,203.8 507.2,206.3 507.1,208.8 507.0,211.3 506.9,213.8 467.9,213.8 467.8,211.3 467.7,208.8 467.6,206.3 467.5,203.8 467.4,201.3 467.3,198.8 467.2,196.3 467.1,193.8 467.0,191.3 466.9,188.8 466.8,186.3 466.7,183.8 466.5,181.3 466.3,178.8 466.1,176.3 465.9,173.8 465.7,171.3 465.5,168.8 465.2,166.3 465.0,163.8 464.8,161.3 464.6,158.8 464.4,156.3 464.2,153.8 463.9,151.3 463.7,148.8 463.5,146.3 463.3,143.8 463.1,141.3 462.8,138.8 462.6,136.3 462.4,133.8 462.2,131.3 462.0,128.8 461.9,126.3 461.8,123.8 461.7,121.3 461.5,118.8 461.4,116.3 461.3,113.8 461.2,111.3 461.1,108.8 461.0,106.3 460.8,103.8 460.7,101.3 460.6,98.8 460.5,96.3 460.4,93.8 460.3,91.3 460.1,88.8 460.0,86.3 459.9,83.8 459.8,81.3 459.7,78.8 459.6,76.3 459.4,73.8 459.3,71.3 459.2,68.8 459.1,66.3 459.1,46.3" fill="rgb(138,138,138)" filter="url(#b1)"/>
<polygon points="513.7,46.3 513.7,66.3 513.6,68.8 513.5,71.3 513.4,73.8 513.3,76.3 513.2,78.8 513.1,81.3 513.0,83.8 512.9,86.3 512.9,88.8 512.8,91.3 512.7,93.8 512.6,96.3 512.5,98.8 512.4,101.3 512.3,103.8 512.2,106.3 512.1,108.8 512.0,111.3 511.9,113.8 511.8,116.3 511.7,118.8 511.6,121.3 511.5,123.8 511.4,126.3 511.3,128.8 511.2,131.3 511.0,133.8 510.8,136.3 510.7,138.8 510.5,141.3 510.3,143.8 510.1,146.3 509.9,148.8 509.8,151.3 509.6,153.8 509.4,156.3 509.2,158.8 509.0,161.3 508.8,163.8 508.7,166.3 508.5,168.8 508.3,171.3 508.1,173.8 507.9,176.3 507.8,178.8 507.6,181.3 507.5,183.8 507.4,186.3 507.3,188.8 507.2,191.3 507.2,193.8 507.1,196.3 507.0,198.8 506.9,201.3 506.8,203.8 506.7,206.3 506.6,208.8 506.6,211.3 506.5,213.8 468.3,213.8 468.2,211.3 468.2,208.8 468.1,206.3 468.0,203.8 467.9,201.3 467.8,198.8 467.7,196.3 467.6,193.8 467.6,191.3 467.5,188.8 467.4,186.3 467.3,183.8 467.2,181.3 467.0,178.8 466.9,176.3 466.7,173.8 466.5,171.3 466.3,168.8 466.1,166.3 466.0,163.8 465.8,161.3 465.6,158.8 465.4,156.3 465.2,153.8 465.0,151.3 464.9,148.8 464.7,146.3 464.5,143.8 464.3,141.3 464.1,138.8 464.0,136.3 463.8,133.8 463.6,131.3 463.5,128.8 463.4,126.3 463.3,123.8 463.2,121.3 463.1,118.8 463.0,116.3 462.9,113.8 462.8,111.3 462.7,108.8 462.6,106.3 462.5,103.8 462.4,101.3 462.3,98.8 462.2,96.3 462.1,93.8 462.0,91.3 461.9,88.8 461.9,86.3 461.8,83.8 461.7,81.3 461.6,78.8 461.5,76.3 461.4,73.8 461.3,71.3 461.2,68.8 461.1,66.3 461.1,46.3" fill="rgb(158,158,158)" filter="url(#b1)"/>
<polygon points="512.4,46.3 512.4,66.3 512.3,68.8 512.3,71.3 512.2,73.8 512.1,76.3 512.0,78.8 511.9,81.3 511.9,83.8 511.8,86.3 511.7,88.8 511.6,91.3 511.5,93.8 511.5,96.3 511.4,98.8 511.3,101.3 511.2,103.8 511.1,106.3 511.1,108.8 511.0,111.3 510.9,113.8 510.8,116.3 510.8,118.8 510.7,121.3 510.6,123.8 510.5,126.3 510.4,128.8 510.3,131.3 510.1,133.8 510.0,136.3 509.8,138.8 509.6,141.3 509.5,143.8 509.3,146.3 509.1,148.8 509.0,151.3 508.8,153.8 508.6,156.3 508.5,158.8 508.3,161.3 508.1,163.8 508.0,166.3 507.8,168.8 507.6,171.3 507.5,173.8 507.3,176.3 507.1,178.8 507.0,181.3 506.9,183.8 506.8,186.3 506.8,188.8 506.7,191.3 506.6,193.8 506.5,196.3 506.5,198.8 506.4,201.3 506.3,203.8 506.3,206.3 506.2,208.8 506.1,211.3 506.0,213.8 468.8,213.8 468.7,211.3 468.6,208.8 468.5,206.3 468.5,203.8 468.4,201.3 468.3,198.8 468.3,196.3 468.2,193.8 468.1,191.3 468.0,188.8 468.0,186.3 467.9,183.8 467.8,181.3 467.7,178.8 467.5,176.3 467.3,173.8 467.2,171.3 467.0,168.8 466.8,166.3 466.7,163.8 466.5,161.3 466.3,158.8 466.2,156.3 466.0,153.8 465.8,151.3 465.7,148.8 465.5,146.3 465.3,143.8 465.2,141.3 465.0,138.8 464.8,136.3 464.7,133.8 464.5,131.3 464.4,128.8 464.3,126.3 464.2,123.8 464.1,121.3 464.0,118.8 464.0,116.3 463.9,113.8 463.8,111.3 463.7,108.8 463.7,106.3 463.6,103.8 463.5,101.3 463.4,98.8 463.3,96.3 463.3,93.8 463.2,91.3 463.1,88.8 463.0,86.3 462.9,83.8 462.9,81.3 462.8,78.8 462.7,76.3 462.6,73.8 462.5,71.3 462.5,68.8 462.4,66.3 462.4,46.3" fill="rgb(178,178,178)" filter="url(#b0_8)"/>
<polygon points="511.1,46.3 511.1,66.3 511.1,68.8 511.0,71.3 510.9,73.8 510.9,76.3 510.8,78.8 510.7,81.3 510.7,83.8 510.6,86.3 510.5,88.8 510.5,91.3 510.4,93.8 510.4,96.3 510.3,98.8 510.2,101.3 510.2,103.8 510.1,106.3 510.0,108.8 510.0,111.3 509.9,113.8 509.8,116.3 509.8,118.8 509.7,121.3 509.7,123.8 509.6,126.3 509.5,128.8 509.4,131.3 509.3,133.8 509.1,136.3 508.9,138.8 508.8,141.3 508.6,143.8 508.5,146.3 508.3,148.8 508.2,151.3 508.0,153.8 507.9,156.3 507.7,158.8 507.6,161.3 507.4,163.8 507.3,166.3 507.1,168.8 506.9,171.3 506.8,173.8 506.6,176.3 506.5,178.8 506.3,181.3 506.3,183.8 506.2,186.3 506.2,188.8 506.1,191.3 506.1,193.8 506.0,196.3 505.9,198.8 505.9,201.3 505.8,203.8 505.8,206.3 505.7,208.8 505.7,211.3 505.6,213.8 469.2,213.8 469.1,211.3 469.1,208.8 469.0,206.3 469.0,203.8 468.9,201.3 468.9,198.8 468.8,196.3 468.7,193.8 468.7,191.3 468.6,188.8 468.6,186.3 468.5,183.8 468.5,181.3 468.3,178.8 468.2,176.3 468.0,173.8 467.9,171.3 467.7,168.8 467.5,166.3 467.4,163.8 467.2,161.3 467.1,158.8 466.9,156.3 466.8,153.8 466.6,151.3 466.5,148.8 466.3,146.3 466.2,143.8 466.0,141.3 465.9,138.8 465.7,136.3 465.5,133.8 465.4,131.3 465.3,128.8 465.2,126.3 465.1,123.8 465.1,121.3 465.0,118.8 465.0,116.3 464.9,113.8 464.8,111.3 464.8,108.8 464.7,106.3 464.6,103.8 464.6,101.3 464.5,98.8 464.4,96.3 464.4,93.8 464.3,91.3 464.3,88.8 464.2,86.3 464.1,83.8 464.1,81.3 464.0,78.8 463.9,76.3 463.9,73.8 463.8,71.3 463.7,68.8 463.7,66.3 463.7,46.3" fill="rgb(199,199,199)" filter="url(#b0_8)"/>
<polygon points="509.9,46.3 509.9,66.3 509.8,68.8 509.8,71.3 509.7,73.8 509.7,76.3 509.6,78.8 509.6,81.3 509.5,83.8 509.5,86.3 509.4,88.8 509.4,91.3 509.3,93.8 509.3,96.3 509.2,98.8 509.2,101.3 509.1,103.8 509.1,106.3 509.0,108.8 509.0,111.3 508.9,113.8 508.9,116.3 508.8,118.8 508.8,121.3 508.7,123.8 508.7,126.3 508.6,128.8 508.5,131.3 508.4,133.8 508.3,136.3 508.1,138.8 508.0,141.3 507.8,143.8 507.7,146.3 507.6,148.8 507.4,151.3 507.3,153.8 507.2,156.3 507.0,158.8 506.9,161.3 506.8,163.8 506.6,166.3 506.5,168.8 506.3,171.3 506.2,173.8 506.0,176.3 505.9,178.8 505.7,181.3 505.6,183.8 505.6,186.3 505.6,188.8 505.5,191.3 505.5,193.8 505.4,196.3 505.4,198.8 505.4,201.3 505.3,203.8 505.3,206.3 505.2,208.8 505.2,211.3 505.2,213.8 469.6,213.8 469.6,211.3 469.6,208.8 469.5,206.3 469.5,203.8 469.4,201.3 469.4,198.8 469.4,196.3 469.3,193.8 469.3,191.3 469.2,188.8 469.2,186.3 469.2,183.8 469.1,181.3 468.9,178.8 468.8,176.3 468.6,173.8 468.5,171.3 468.3,168.8 468.2,166.3 468.0,163.8 467.9,161.3 467.8,158.8 467.6,156.3 467.5,153.8 467.4,151.3 467.2,148.8 467.1,146.3 467.0,143.8 466.8,141.3 466.7,138.8 466.5,136.3 466.4,133.8 466.3,131.3 466.2,128.8 466.1,126.3 466.1,123.8 466.0,121.3 466.0,118.8 465.9,116.3 465.9,113.8 465.8,111.3 465.8,108.8 465.7,106.3 465.7,103.8 465.6,101.3 465.6,98.8 465.5,96.3 465.5,93.8 465.4,91.3 465.4,88.8 465.3,86.3 465.3,83.8 465.2,81.3 465.2,78.8 465.1,76.3 465.1,73.8 465.0,71.3 465.0,68.8 464.9,66.3 464.9,46.3" fill="rgb(219,219,219)" filter="url(#b0_8)"/>
<polygon points="508.8,46.3 508.8,66.3 508.8,68.8 508.8,71.3 508.7,73.8 508.7,76.3 508.6,78.8 508.6,81.3 508.6,83.8 508.5,86.3 508.5,88.8 508.5,91.3 508.4,93.8 508.4,96.3 508.4,98.8 508.3,101.3 508.3,103.8 508.2,106.3 508.2,108.8 508.2,111.3 508.1,113.8 508.1,116.3 508.1,118.8 508.0,121.3 508.0,123.8 508.0,126.3 507.9,128.8 507.8,131.3 507.8,133.8 507.7,136.3 507.6,138.8 507.5,141.3 507.4,143.8 507.3,146.3 507.2,148.8 507.1,151.3 507.0,153.8 506.9,156.3 506.8,158.8 506.7,161.3 506.6,163.8 506.4,166.3 506.2,168.8 506.0,171.3 505.8,173.8 505.6,176.3 505.4,178.8 505.1,181.3 504.9,183.8 504.8,186.3 504.8,188.8 504.8,191.3 504.7,193.8 504.7,196.3 504.7,198.8 504.7,201.3 504.7,203.8 504.6,206.3 504.6,208.8 504.6,211.3 504.6,213.8 470.2,213.8 470.2,211.3 470.2,208.8 470.2,206.3 470.1,203.8 470.1,201.3 470.1,198.8 470.1,196.3 470.1,193.8 470.0,191.3 470.0,188.8 470.0,186.3 469.9,183.8 469.7,181.3 469.4,178.8 469.2,176.3 469.0,173.8 468.8,171.3 468.6,168.8 468.4,166.3 468.2,163.8 468.1,161.3 468.0,158.8 467.9,156.3 467.8,153.8 467.7,151.3 467.6,148.8 467.5,146.3 467.4,143.8 467.3,141.3 467.2,138.8 467.1,136.3 467.0,133.8 467.0,131.3 466.9,128.8 466.8,126.3 466.8,123.8 466.8,121.3 466.7,118.8 466.7,116.3 466.7,113.8 466.6,111.3 466.6,108.8 466.6,106.3 466.5,103.8 466.5,101.3 466.4,98.8 466.4,96.3 466.4,93.8 466.3,91.3 466.3,88.8 466.3,86.3 466.2,83.8 466.2,81.3 466.2,78.8 466.1,76.3 466.1,73.8 466.0,71.3 466.0,68.8 466.0,66.3 466.0,46.3" fill="rgb(237,237,237)" filter="url(#b0_8)"/>
<polygon points="507.8,46.3 507.8,66.3 507.8,68.8 507.8,71.3 507.7,73.8 507.7,76.3 507.7,78.8 507.7,81.3 507.6,83.8 507.6,86.3 507.6,88.8 507.6,91.3 507.5,93.8 507.5,96.3 507.5,98.8 507.5,101.3 507.4,103.8 507.4,106.3 507.4,108.8 507.4,111.3 507.4,113.8 507.3,116.3 507.3,118.8 507.3,121.3 507.3,123.8 507.2,126.3 507.2,128.8 507.2,131.3 507.1,133.8 507.1,136.3 507.0,138.8 506.9,141.3 506.9,143.8 506.8,146.3 506.8,148.8 506.7,151.3 506.7,153.8 506.6,156.3 506.5,158.8 506.5,161.3 506.4,163.8 506.3,166.3 506.0,168.8 505.7,171.3 505.4,173.8 505.1,176.3 504.8,178.8 504.6,181.3 504.2,183.8 504.0,186.3 504.0,188.8 504.0,191.3 504.0,193.8 504.0,196.3 504.0,198.8 504.0,201.3 504.0,203.8 504.0,206.3 504.0,208.8 504.0,211.3 504.0,213.8 470.8,213.8 470.8,211.3 470.8,208.8 470.8,206.3 470.8,203.8 470.8,201.3 470.8,198.8 470.8,196.3 470.8,193.8 470.8,191.3 470.8,188.8 470.8,186.3 470.6,183.8 470.2,181.3 470.0,178.8 469.7,176.3 469.4,173.8 469.1,171.3 468.8,168.8 468.5,166.3 468.4,163.8 468.3,161.3 468.3,158.8 468.2,156.3 468.1,153.8 468.1,151.3 468.0,148.8 468.0,146.3 467.9,143.8 467.9,141.3 467.8,138.8 467.7,136.3 467.7,133.8 467.6,131.3 467.6,128.8 467.6,126.3 467.5,123.8 467.5,121.3 467.5,118.8 467.5,116.3 467.4,113.8 467.4,111.3 467.4,108.8 467.4,106.3 467.4,103.8 467.3,101.3 467.3,98.8 467.3,96.3 467.3,93.8 467.2,91.3 467.2,88.8 467.2,86.3 467.2,83.8 467.1,81.3 467.1,78.8 467.1,76.3 467.1,73.8 467.0,71.3 467.0,68.8 467.0,66.3 467.0,46.3" fill="rgb(255,255,255)" filter="url(#b0_8)"/>
<linearGradient id="td_b" x1="0" y1="0" x2="0" y2="1"><stop offset="0" stop-color="#000" stop-opacity="0.83"/><stop offset="0.12" stop-color="#000" stop-opacity="0.71"/><stop offset="0.25" stop-color="#000" stop-opacity="0.50"/><stop offset="0.5" stop-color="#000" stop-opacity="0.22"/><stop offset="0.75" stop-color="#000" stop-opacity="0.07"/><stop offset="1" stop-color="#000" stop-opacity="0.00"/></linearGradient>
<linearGradient id="mg_b" gradientUnits="userSpaceOnUse" x1="327.1" y1="0" x2="648.0" y2="0"><stop offset="0.0000" stop-color="#fff"/><stop offset="0.3063" stop-color="#fff"/><stop offset="0.3687" stop-color="#000"/><stop offset="0.6304" stop-color="#000"/><stop offset="0.6927" stop-color="#fff"/><stop offset="1.0000" stop-color="#fff"/></linearGradient>
<mask id="mk_b" maskUnits="userSpaceOnUse" x="327.1" y="65.3" width="320.9" height="36.0"><rect x="327.1" y="65.3" width="320.9" height="36.0" fill="url(#mg_b)"/></mask>
<rect x="327.1" y="66.3" width="320.9" height="34.0" fill="url(#td_b)" mask="url(#mk_b)"/>
</g></g>
<rect x="357.1" y="66.3" width="260.9" height="129.6" fill="none" stroke="#15153a" stroke-width="0.8"/>
<line x1="422.4" y1="66.3" x2="422.4" y2="195.9" stroke="#0a0a3c" stroke-width="0.7"/>
<line x1="487.4" y1="66.3" x2="487.4" y2="195.9" stroke="#0a0a3c" stroke-width="0.7"/>
<line x1="552.5" y1="66.3" x2="552.5" y2="195.9" stroke="#0a0a3c" stroke-width="0.7"/>
<text x="356.8" y="16.4" font-size="14.56" textLength="27.1" lengthAdjust="spacingAndGlyphs" font-weight="bold">2r/s</text>
<text x="393.2" y="16.7" font-size="15.06" textLength="4.2" lengthAdjust="spacingAndGlyphs">(</text>
<text x="399.0" y="16.4" font-size="14.06" textLength="57.2" lengthAdjust="spacingAndGlyphs">0.8W,10s</text>
<text x="458.5" y="16.7" font-size="15.06" textLength="4.2" lengthAdjust="spacingAndGlyphs">)</text>
<text x="356.8" y="34.8" font-size="14.06" textLength="83.6" lengthAdjust="spacingAndGlyphs">Temperature</text>
<text x="357.1" y="53.2" font-size="14.06" textLength="23.5" lengthAdjust="spacingAndGlyphs">Unit</text>
<text x="384.8" y="53.2" font-size="14.06">:</text>
<text x="400.3" y="53.2" font-size="14.06" textLength="7.6" lengthAdjust="spacingAndGlyphs">K</text>
<rect x="562.0" y="49.0" width="54.0" height="6.6" fill="#000"/>
<text x="567.0" y="42.7" font-size="14.00" textLength="44.0" lengthAdjust="spacingAndGlyphs">0.2mm</text>
<path d="M624.0 69.0L637.0 69.0L630.5 59.0Z" fill="#000"/>
<path d="M624.0 185.0L637.0 185.0L630.5 195.6Z" fill="#000"/>
<text x="641.5" y="68.6" font-size="14.00" textLength="22.5" lengthAdjust="spacingAndGlyphs">735</text>
<text x="642.5" y="196.2" font-size="14.00" textLength="22.5" lengthAdjust="spacingAndGlyphs">238</text>
<rect x="644.0" y="77.4" width="12.0" height="100.4" fill="url(#cb)" stroke="#3a2a2a" stroke-width="0.6"/>
<text x="660.0" y="88.6" font-size="14.00" textLength="23.3" lengthAdjust="spacingAndGlyphs">700</text>
<line x1="653.5" y1="84.8" x2="656.0" y2="84.8" stroke="#222" stroke-width="0.6"/>
<text x="660.0" y="110.1" font-size="14.00" textLength="23.3" lengthAdjust="spacingAndGlyphs">600</text>
<line x1="653.5" y1="106.3" x2="656.0" y2="106.3" stroke="#222" stroke-width="0.6"/>
<text x="660.0" y="132.6" font-size="14.00" textLength="23.3" lengthAdjust="spacingAndGlyphs">500</text>
<line x1="653.5" y1="128.8" x2="656.0" y2="128.8" stroke="#222" stroke-width="0.6"/>
<text x="660.0" y="154.3" font-size="14.00" textLength="23.3" lengthAdjust="spacingAndGlyphs">400</text>
<line x1="653.5" y1="150.5" x2="656.0" y2="150.5" stroke="#222" stroke-width="0.6"/>
<text x="660.0" y="174.2" font-size="14.00" textLength="23.3" lengthAdjust="spacingAndGlyphs">300</text>
<line x1="653.5" y1="170.4" x2="656.0" y2="170.4" stroke="#222" stroke-width="0.6"/>
<text x="478.2" y="218.2" font-size="21.0" textLength="24.5" lengthAdjust="spacingAndGlyphs" fill="#111" stroke="#111" stroke-width="0.3">(b)</text>
<clipPath id="clip_c"><rect x="3.7" y="305.4" width="266.4" height="133.8"/></clipPath>
<g clip-path="url(#clip_c)"><g filter="url(#jet)">
<rect x="-26.3" y="275.4" width="326.4" height="193.8" fill="rgb(18,18,18)"/>
<polygon points="190.8,285.4 190.8,305.4 190.4,307.9 190.0,310.4 189.6,312.9 189.1,315.4 188.7,317.9 188.3,320.4 187.9,322.9 187.5,325.4 187.1,327.9 186.7,330.4 186.3,332.9 185.8,335.4 185.4,337.9 185.0,340.4 184.6,342.9 184.2,345.4 183.8,347.9 183.4,350.4 183.0,352.9 182.5,355.4 182.1,357.9 181.7,360.4 181.3,362.9 180.9,365.4 180.5,367.9 180.1,370.4 179.7,372.9 179.3,375.4 178.9,377.9 178.5,380.4 178.1,382.9 177.6,385.4 177.2,387.9 176.8,390.4 176.4,392.9 176.0,395.4 175.6,397.9 175.2,400.4 174.8,402.9 174.4,405.4 174.0,407.9 173.6,410.4 173.2,412.9 172.8,415.4 172.4,417.9 172.0,420.4 171.6,422.9 171.2,425.4 170.8,427.9 170.4,430.4 170.0,432.9 169.6,435.4 169.2,437.9 168.8,440.4 168.4,442.9 168.0,445.4 167.6,447.9 167.2,450.4 166.8,452.9 166.4,455.4 166.0,457.9 107.6,457.9 107.2,455.4 106.8,452.9 106.4,450.4 106.0,447.9 105.6,445.4 105.2,442.9 104.8,440.4 104.4,437.9 104.0,435.4 103.6,432.9 103.2,430.4 102.8,427.9 102.4,425.4 102.0,422.9 101.6,420.4 101.2,417.9 100.8,415.4 100.4,412.9 100.0,410.4 99.6,407.9 99.2,405.4 98.8,402.9 98.4,400.4 98.0,397.9 97.6,395.4 97.2,392.9 96.8,390.4 96.4,387.9 96.0,385.4 95.6,382.9 95.1,380.4 94.7,377.9 94.3,375.4 93.9,372.9 93.5,370.4 93.1,367.9 92.7,365.4 92.3,362.9 91.9,360.4 91.5,357.9 91.1,355.4 90.6,352.9 90.2,350.4 89.8,347.9 89.4,345.4 89.0,342.9 88.6,340.4 88.2,337.9 87.8,335.4 87.3,332.9 86.9,330.4 86.5,327.9 86.1,325.4 85.7,322.9 85.3,320.4 84.9,317.9 84.5,315.4 84.0,312.9 83.6,310.4 83.2,307.9 82.8,305.4 82.8,285.4" fill="rgb(22,22,22)" filter="url(#b9)"/>
<polygon points="180.8,285.4 180.8,305.4 180.5,307.9 180.1,310.4 179.8,312.9 179.4,315.4 179.1,317.9 178.8,320.4 178.4,322.9 178.1,325.4 177.8,327.9 177.4,330.4 177.1,332.9 176.7,335.4 176.4,337.9 176.1,340.4 175.7,342.9 175.4,345.4 175.1,347.9 174.7,350.4 174.4,352.9 174.0,355.4 173.7,357.9 173.4,360.4 173.0,362.9 172.7,365.4 172.4,367.9 172.0,370.4 171.7,372.9 171.4,375.4 171.2,377.9 170.9,380.4 170.6,382.9 170.3,385.4 170.1,387.9 169.8,390.4 169.5,392.9 169.3,395.4 169.0,397.9 168.7,400.4 168.4,402.9 168.2,405.4 167.9,407.9 167.6,410.4 167.3,412.9 167.1,415.4 166.8,417.9 166.5,420.4 166.3,422.9 166.0,425.4 165.7,427.9 165.4,430.4 165.2,432.9 164.9,435.4 164.6,437.9 164.3,440.4 164.1,442.9 163.8,445.4 163.5,447.9 163.3,450.4 163.0,452.9 162.7,455.4 162.4,457.9 111.2,457.9 110.9,455.4 110.6,452.9 110.3,450.4 110.1,447.9 109.8,445.4 109.5,442.9 109.3,440.4 109.0,437.9 108.7,435.4 108.4,432.9 108.2,430.4 107.9,427.9 107.6,425.4 107.3,422.9 107.1,420.4 106.8,417.9 106.5,415.4 106.3,412.9 106.0,410.4 105.7,407.9 105.4,405.4 105.2,402.9 104.9,400.4 104.6,397.9 104.3,395.4 104.1,392.9 103.8,390.4 103.5,387.9 103.3,385.4 103.0,382.9 102.7,380.4 102.4,377.9 102.2,375.4 101.9,372.9 101.6,370.4 101.2,367.9 100.9,365.4 100.6,362.9 100.2,360.4 99.9,357.9 99.6,355.4 99.2,352.9 98.9,350.4 98.5,347.9 98.2,345.4 97.9,342.9 97.5,340.4 97.2,337.9 96.9,335.4 96.5,332.9 96.2,330.4 95.8,327.9 95.5,325.4 95.2,322.9 94.8,320.4 94.5,317.9 94.2,315.4 93.8,312.9 93.5,310.4 93.1,307.9 92.8,305.4 92.8,285.4" fill="rgb(31,31,31)" filter="url(#b5_5)"/>
<polygon points="177.2,285.4 177.2,305.4 177.0,307.9 176.7,310.4 176.4,312.9 176.1,315.4 175.8,317.9 175.5,320.4 175.2,322.9 174.9,325.4 174.7,327.9 174.4,330.4 174.1,332.9 173.8,335.4 173.5,337.9 173.2,340.4 172.9,342.9 172.6,345.4 172.4,347.9 172.1,350.4 171.8,352.9 171.5,355.4 171.2,357.9 170.9,360.4 170.6,362.9 170.3,365.4 170.0,367.9 169.8,370.4 169.5,372.9 169.3,375.4 169.0,377.9 168.8,380.4 168.6,382.9 168.4,385.4 168.2,387.9 167.9,390.4 167.7,392.9 167.5,395.4 167.3,397.9 167.0,400.4 166.8,402.9 166.6,405.4 166.4,407.9 166.1,410.4 165.9,412.9 165.7,415.4 165.5,417.9 165.2,420.4 165.0,422.9 164.8,425.4 164.6,427.9 164.3,430.4 164.1,432.9 163.9,435.4 163.7,437.9 163.5,440.4 163.2,442.9 163.0,445.4 162.8,447.9 162.6,450.4 162.3,452.9 162.1,455.4 161.9,457.9 111.7,457.9 111.5,455.4 111.3,452.9 111.0,450.4 110.8,447.9 110.6,445.4 110.4,442.9 110.1,440.4 109.9,437.9 109.7,435.4 109.5,432.9 109.3,430.4 109.0,427.9 108.8,425.4 108.6,422.9 108.4,420.4 108.1,417.9 107.9,415.4 107.7,412.9 107.5,410.4 107.2,407.9 107.0,405.4 106.8,402.9 106.6,400.4 106.3,397.9 106.1,395.4 105.9,392.9 105.7,390.4 105.4,387.9 105.2,385.4 105.0,382.9 104.8,380.4 104.6,377.9 104.3,375.4 104.1,372.9 103.8,370.4 103.6,367.9 103.3,365.4 103.0,362.9 102.7,360.4 102.4,357.9 102.1,355.4 101.8,352.9 101.5,350.4 101.2,347.9 101.0,345.4 100.7,342.9 100.4,340.4 100.1,337.9 99.8,335.4 99.5,332.9 99.2,330.4 98.9,327.9 98.7,325.4 98.4,322.9 98.1,320.4 97.8,317.9 97.5,315.4 97.2,312.9 96.9,310.4 96.6,307.9 96.4,305.4 96.4,285.4" fill="rgb(41,41,41)" filter="url(#b2)"/>
<polygon points="172.8,285.4 172.8,305.4 172.6,307.9 172.3,310.4 172.1,312.9 171.9,315.4 171.7,317.9 171.4,320.4 171.2,322.9 171.0,325.4 170.8,327.9 170.5,330.4 170.3,332.9 170.1,335.4 169.9,337.9 169.6,340.4 169.4,342.9 169.2,345.4 169.0,347.9 168.7,350.4 168.5,352.9 168.3,355.4 168.1,357.9 167.8,360.4 167.6,362.9 167.4,365.4 167.2,367.9 166.9,370.4 166.7,372.9 166.6,375.4 166.4,377.9 166.3,380.4 166.1,382.9 165.9,385.4 165.8,387.9 165.6,390.4 165.4,392.9 165.3,395.4 165.1,397.9 164.9,400.4 164.8,402.9 164.6,405.4 164.5,407.9 164.3,410.4 164.1,412.9 164.0,415.4 163.8,417.9 163.6,420.4 163.5,422.9 163.3,425.4 163.1,427.9 163.0,430.4 162.8,432.9 162.7,435.4 162.5,437.9 162.3,440.4 162.2,442.9 162.0,445.4 161.8,447.9 161.7,450.4 161.5,452.9 161.3,455.4 161.2,457.9 112.4,457.9 112.3,455.4 112.1,452.9 111.9,450.4 111.8,447.9 111.6,445.4 111.4,442.9 111.3,440.4 111.1,437.9 110.9,435.4 110.8,432.9 110.6,430.4 110.5,427.9 110.3,425.4 110.1,422.9 110.0,420.4 109.8,417.9 109.6,415.4 109.5,412.9 109.3,410.4 109.1,407.9 109.0,405.4 108.8,402.9 108.7,400.4 108.5,397.9 108.3,395.4 108.2,392.9 108.0,390.4 107.8,387.9 107.7,385.4 107.5,382.9 107.3,380.4 107.2,377.9 107.0,375.4 106.9,372.9 106.7,370.4 106.4,367.9 106.2,365.4 106.0,362.9 105.8,360.4 105.5,357.9 105.3,355.4 105.1,352.9 104.9,350.4 104.6,347.9 104.4,345.4 104.2,342.9 104.0,340.4 103.7,337.9 103.5,335.4 103.3,332.9 103.1,330.4 102.8,327.9 102.6,325.4 102.4,322.9 102.2,320.4 101.9,317.9 101.7,315.4 101.5,312.9 101.3,310.4 101.0,307.9 100.8,305.4 100.8,285.4" fill="rgb(54,54,54)" filter="url(#b2_5)"/>
<polygon points="170.6,285.4 170.6,305.4 170.4,307.9 170.2,310.4 170.0,312.9 169.8,315.4 169.6,317.9 169.5,320.4 169.3,322.9 169.1,325.4 168.9,327.9 168.7,330.4 168.5,332.9 168.3,335.4 168.1,337.9 167.9,340.4 167.7,342.9 167.5,345.4 167.3,347.9 167.1,350.4 166.9,352.9 166.7,355.4 166.5,357.9 166.3,360.4 166.1,362.9 165.9,365.4 165.7,367.9 165.5,370.4 165.4,372.9 165.2,375.4 165.1,377.9 165.0,380.4 164.8,382.9 164.7,385.4 164.5,387.9 164.4,390.4 164.3,392.9 164.1,395.4 164.0,397.9 163.8,400.4 163.7,402.9 163.6,405.4 163.4,407.9 163.3,410.4 163.1,412.9 163.0,415.4 162.9,417.9 162.7,420.4 162.6,422.9 162.4,425.4 162.3,427.9 162.2,430.4 162.0,432.9 161.9,435.4 161.8,437.9 161.6,440.4 161.5,442.9 161.3,445.4 161.2,447.9 161.1,450.4 160.9,452.9 160.8,455.4 160.6,457.9 113.0,457.9 112.8,455.4 112.7,452.9 112.5,450.4 112.4,447.9 112.3,445.4 112.1,442.9 112.0,440.4 111.8,437.9 111.7,435.4 111.6,432.9 111.4,430.4 111.3,427.9 111.2,425.4 111.0,422.9 110.9,420.4 110.7,417.9 110.6,415.4 110.5,412.9 110.3,410.4 110.2,407.9 110.0,405.4 109.9,402.9 109.8,400.4 109.6,397.9 109.5,395.4 109.3,392.9 109.2,390.4 109.1,387.9 108.9,385.4 108.8,382.9 108.6,380.4 108.5,377.9 108.4,375.4 108.2,372.9 108.1,370.4 107.9,367.9 107.7,365.4 107.5,362.9 107.3,360.4 107.1,357.9 106.9,355.4 106.7,352.9 106.5,350.4 106.3,347.9 106.1,345.4 105.9,342.9 105.7,340.4 105.5,337.9 105.3,335.4 105.1,332.9 104.9,330.4 104.7,327.9 104.5,325.4 104.3,322.9 104.1,320.4 104.0,317.9 103.8,315.4 103.6,312.9 103.4,310.4 103.2,307.9 103.0,305.4 103.0,285.4" fill="rgb(66,66,66)" filter="url(#b1)"/>
<polygon points="168.0,285.4 168.0,305.4 167.9,307.9 167.7,310.4 167.5,312.9 167.4,315.4 167.2,317.9 167.1,320.4 166.9,322.9 166.7,325.4 166.6,327.9 166.4,330.4 166.3,332.9 166.1,335.4 165.9,337.9 165.8,340.4 165.6,342.9 165.5,345.4 165.3,347.9 165.1,350.4 165.0,352.9 164.8,355.4 164.7,357.9 164.5,360.4 164.3,362.9 164.2,365.4 164.0,367.9 163.9,370.4 163.7,372.9 163.6,375.4 163.5,377.9 163.4,380.4 163.3,382.9 163.2,385.4 163.1,387.9 163.0,390.4 162.8,392.9 162.7,395.4 162.6,397.9 162.5,400.4 162.4,402.9 162.3,405.4 162.2,407.9 162.1,410.4 162.0,412.9 161.9,415.4 161.7,417.9 161.6,420.4 161.5,422.9 161.4,425.4 161.3,427.9 161.2,430.4 161.1,432.9 161.0,435.4 160.9,437.9 160.8,440.4 160.7,442.9 160.5,445.4 160.4,447.9 160.3,450.4 160.2,452.9 160.1,455.4 160.0,457.9 113.6,457.9 113.5,455.4 113.4,452.9 113.3,450.4 113.2,447.9 113.1,445.4 112.9,442.9 112.8,440.4 112.7,437.9 112.6,435.4 112.5,432.9 112.4,430.4 112.3,427.9 112.2,425.4 112.1,422.9 112.0,420.4 111.9,417.9 111.7,415.4 111.6,412.9 111.5,410.4 111.4,407.9 111.3,405.4 111.2,402.9 111.1,400.4 111.0,397.9 110.9,395.4 110.8,392.9 110.6,390.4 110.5,387.9 110.4,385.4 110.3,382.9 110.2,380.4 110.1,377.9 110.0,375.4 109.9,372.9 109.7,370.4 109.6,367.9 109.4,365.4 109.3,362.9 109.1,360.4 108.9,357.9 108.8,355.4 108.6,352.9 108.5,350.4 108.3,347.9 108.1,345.4 108.0,342.9 107.8,340.4 107.7,337.9 107.5,335.4 107.3,332.9 107.2,330.4 107.0,327.9 106.9,325.4 106.7,322.9 106.5,320.4 106.4,317.9 106.2,315.4 106.1,312.9 105.9,310.4 105.7,307.9 105.6,305.4 105.6,285.4" fill="rgb(82,82,82)" filter="url(#b1_5)"/>
<polygon points="165.4,285.4 165.4,305.4 165.3,307.9 165.2,310.4 165.0,312.9 164.9,315.4 164.8,317.9 164.7,320.4 164.5,322.9 164.4,325.4 164.3,327.9 164.2,330.4 164.0,332.9 163.9,335.4 163.8,337.9 163.7,340.4 163.5,342.9 163.4,345.4 163.3,347.9 163.2,350.4 163.0,352.9 162.9,355.4 162.8,357.9 162.7,360.4 162.6,362.9 162.4,365.4 162.3,367.9 162.2,370.4 162.1,372.9 162.0,375.4 161.9,377.9 161.8,380.4 161.8,382.9 161.7,385.4 161.6,387.9 161.5,390.4 161.4,392.9 161.3,395.4 161.3,397.9 161.2,400.4 161.1,402.9 161.0,405.4 160.9,407.9 160.9,410.4 160.8,412.9 160.7,415.4 160.6,417.9 160.5,420.4 160.5,422.9 160.4,425.4 160.3,427.9 160.2,430.4 160.1,432.9 160.1,435.4 160.0,437.9 159.9,440.4 159.8,442.9 159.7,445.4 159.7,447.9 159.6,450.4 159.5,452.9 159.4,455.4 159.3,457.9 114.3,457.9 114.2,455.4 114.1,452.9 114.0,450.4 113.9,447.9 113.9,445.4 113.8,442.9 113.7,440.4 113.6,437.9 113.5,435.4 113.5,432.9 113.4,430.4 113.3,427.9 113.2,425.4 113.1,422.9 113.1,420.4 113.0,417.9 112.9,415.4 112.8,412.9 112.7,410.4 112.7,407.9 112.6,405.4 112.5,402.9 112.4,400.4 112.3,397.9 112.3,395.4 112.2,392.9 112.1,390.4 112.0,387.9 111.9,385.4 111.9,382.9 111.8,380.4 111.7,377.9 111.6,375.4 111.5,372.9 111.4,370.4 111.3,367.9 111.2,365.4 111.0,362.9 110.9,360.4 110.8,357.9 110.7,355.4 110.6,352.9 110.4,350.4 110.3,347.9 110.2,345.4 110.1,342.9 109.9,340.4 109.8,337.9 109.7,335.4 109.6,332.9 109.4,330.4 109.3,327.9 109.2,325.4 109.1,322.9 108.9,320.4 108.8,317.9 108.7,315.4 108.6,312.9 108.4,310.4 108.3,307.9 108.2,305.4 108.2,285.4" fill="rgb(97,97,97)" filter="url(#b1_5)"/>
<polygon points="163.5,285.4 163.5,305.4 163.4,307.9 163.3,310.4 163.2,312.9 163.1,315.4 163.0,317.9 162.9,320.4 162.8,322.9 162.7,325.4 162.6,327.9 162.5,330.4 162.4,332.9 162.3,335.4 162.2,337.9 162.1,340.4 162.0,342.9 161.9,345.4 161.8,347.9 161.7,350.4 161.6,352.9 161.5,355.4 161.4,357.9 161.3,360.4 161.2,362.9 161.1,365.4 161.0,367.9 160.9,370.4 160.8,372.9 160.7,375.4 160.7,377.9 160.6,380.4 160.5,382.9 160.5,385.4 160.4,387.9 160.3,390.4 160.3,392.9 160.2,395.4 160.2,397.9 160.1,400.4 160.0,402.9 160.0,405.4 159.9,407.9 159.8,410.4 159.8,412.9 159.7,415.4 159.6,417.9 159.6,420.4 159.5,422.9 159.4,425.4 159.4,427.9 159.3,430.4 159.2,432.9 159.2,435.4 159.1,437.9 159.0,440.4 159.0,442.9 158.9,445.4 158.8,447.9 158.8,450.4 158.7,452.9 158.6,455.4 158.6,457.9 115.0,457.9 115.0,455.4 114.9,452.9 114.8,450.4 114.8,447.9 114.7,445.4 114.6,442.9 114.6,440.4 114.5,437.9 114.4,435.4 114.4,432.9 114.3,430.4 114.2,427.9 114.2,425.4 114.1,422.9 114.0,420.4 114.0,417.9 113.9,415.4 113.8,412.9 113.8,410.4 113.7,407.9 113.6,405.4 113.6,402.9 113.5,400.4 113.4,397.9 113.4,395.4 113.3,392.9 113.3,390.4 113.2,387.9 113.1,385.4 113.1,382.9 113.0,380.4 112.9,377.9 112.9,375.4 112.8,372.9 112.7,370.4 112.6,367.9 112.5,365.4 112.4,362.9 112.3,360.4 112.2,357.9 112.1,355.4 112.0,352.9 111.9,350.4 111.8,347.9 111.7,345.4 111.6,342.9 111.5,340.4 111.4,337.9 111.3,335.4 111.2,332.9 111.1,330.4 111.0,327.9 110.9,325.4 110.8,322.9 110.7,320.4 110.6,317.9 110.5,315.4 110.4,312.9 110.3,310.4 110.2,307.9 110.1,305.4 110.1,285.4" fill="rgb(117,117,117)" filter="url(#b1)"/>
<polygon points="161.7,285.4 161.7,305.4 161.6,307.9 161.5,310.4 161.4,312.9 161.4,315.4 161.3,317.9 161.2,320.4 161.1,322.9 161.0,325.4 161.0,327.9 160.9,330.4 160.8,332.9 160.7,335.4 160.6,337.9 160.6,340.4 160.5,342.9 160.4,345.4 160.3,347.9 160.2,350.4 160.2,352.9 160.1,355.4 160.0,357.9 159.9,360.4 159.9,362.9 159.8,365.4 159.7,367.9 159.6,370.4 159.5,372.9 159.5,375.4 159.4,377.9 159.4,380.4 159.3,382.9 159.3,385.4 159.2,387.9 159.2,390.4 159.1,392.9 159.1,395.4 159.0,397.9 159.0,400.4 158.9,402.9 158.9,405.4 158.8,407.9 158.8,410.4 158.7,412.9 158.7,415.4 158.6,417.9 158.6,420.4 158.5,422.9 158.5,425.4 158.4,427.9 158.4,430.4 158.3,432.9 158.3,435.4 158.2,437.9 158.2,440.4 158.1,442.9 158.1,445.4 158.0,447.9 157.9,450.4 157.9,452.9 157.8,455.4 157.8,457.9 115.8,457.9 115.8,455.4 115.7,452.9 115.7,450.4 115.6,447.9 115.5,445.4 115.5,442.9 115.4,440.4 115.4,437.9 115.3,435.4 115.3,432.9 115.2,430.4 115.2,427.9 115.1,425.4 115.1,422.9 115.0,420.4 115.0,417.9 114.9,415.4 114.9,412.9 114.8,410.4 114.8,407.9 114.7,405.4 114.7,402.9 114.6,400.4 114.6,397.9 114.5,395.4 114.5,392.9 114.4,390.4 114.4,387.9 114.3,385.4 114.3,382.9 114.2,380.4 114.2,377.9 114.1,375.4 114.1,372.9 114.0,370.4 113.9,367.9 113.8,365.4 113.7,362.9 113.7,360.4 113.6,357.9 113.5,355.4 113.4,352.9 113.4,350.4 113.3,347.9 113.2,345.4 113.1,342.9 113.0,340.4 113.0,337.9 112.9,335.4 112.8,332.9 112.7,330.4 112.6,327.9 112.6,325.4 112.5,322.9 112.4,320.4 112.3,317.9 112.2,315.4 112.2,312.9 112.1,310.4 112.0,307.9 111.9,305.4 111.9,285.4" fill="rgb(138,138,138)" filter="url(#b1)"/>
<polygon points="159.8,285.4 159.8,305.4 159.7,307.9 159.7,310.4 159.6,312.9 159.6,315.4 159.5,317.9 159.5,320.4 159.4,322.9 159.3,325.4 159.3,327.9 159.2,330.4 159.2,332.9 159.1,335.4 159.1,337.9 159.0,340.4 159.0,342.9 158.9,345.4 158.8,347.9 158.8,350.4 158.7,352.9 158.7,355.4 158.6,357.9 158.6,360.4 158.5,362.9 158.4,365.4 158.4,367.9 158.3,370.4 158.3,372.9 158.2,375.4 158.2,377.9 158.2,380.4 158.1,382.9 158.1,385.4 158.1,387.9 158.0,390.4 158.0,392.9 158.0,395.4 157.9,397.9 157.9,400.4 157.8,402.9 157.8,405.4 157.8,407.9 157.7,410.4 157.7,412.9 157.7,415.4 157.6,417.9 157.6,420.4 157.5,422.9 157.5,425.4 157.5,427.9 157.4,430.4 157.4,432.9 157.4,435.4 157.3,437.9 157.3,440.4 157.2,442.9 157.2,445.4 157.2,447.9 157.1,450.4 157.1,452.9 157.1,455.4 157.0,457.9 116.6,457.9 116.5,455.4 116.5,452.9 116.5,450.4 116.4,447.9 116.4,445.4 116.4,442.9 116.3,440.4 116.3,437.9 116.2,435.4 116.2,432.9 116.2,430.4 116.1,427.9 116.1,425.4 116.1,422.9 116.0,420.4 116.0,417.9 115.9,415.4 115.9,412.9 115.9,410.4 115.8,407.9 115.8,405.4 115.8,402.9 115.7,400.4 115.7,397.9 115.6,395.4 115.6,392.9 115.6,390.4 115.5,387.9 115.5,385.4 115.5,382.9 115.4,380.4 115.4,377.9 115.4,375.4 115.3,372.9 115.3,370.4 115.2,367.9 115.2,365.4 115.1,362.9 115.0,360.4 115.0,357.9 114.9,355.4 114.9,352.9 114.8,350.4 114.8,347.9 114.7,345.4 114.6,342.9 114.6,340.4 114.5,337.9 114.5,335.4 114.4,332.9 114.4,330.4 114.3,327.9 114.3,325.4 114.2,322.9 114.1,320.4 114.1,317.9 114.0,315.4 114.0,312.9 113.9,310.4 113.9,307.9 113.8,305.4 113.8,285.4" fill="rgb(158,158,158)" filter="url(#b1)"/>
<polygon points="158.7,285.4 158.7,305.4 158.6,307.9 158.6,310.4 158.6,312.9 158.5,315.4 158.5,317.9 158.4,320.4 158.4,322.9 158.3,325.4 158.3,327.9 158.3,330.4 158.2,332.9 158.2,335.4 158.1,337.9 158.1,340.4 158.0,342.9 158.0,345.4 158.0,347.9 157.9,350.4 157.9,352.9 157.8,355.4 157.8,357.9 157.7,360.4 157.7,362.9 157.6,365.4 157.6,367.9 157.6,370.4 157.5,372.9 157.5,375.4 157.5,377.9 157.4,380.4 157.4,382.9 157.4,385.4 157.3,387.9 157.3,390.4 157.3,392.9 157.3,395.4 157.2,397.9 157.2,400.4 157.2,402.9 157.1,405.4 157.1,407.9 157.1,410.4 157.1,412.9 157.0,415.4 157.0,417.9 157.0,420.4 156.9,422.9 156.9,425.4 156.9,427.9 156.9,430.4 156.8,432.9 156.8,435.4 156.8,437.9 156.7,440.4 156.7,442.9 156.7,445.4 156.6,447.9 156.6,450.4 156.6,452.9 156.6,455.4 156.5,457.9 117.1,457.9 117.0,455.4 117.0,452.9 117.0,450.4 117.0,447.9 116.9,445.4 116.9,442.9 116.9,440.4 116.8,437.9 116.8,435.4 116.8,432.9 116.7,430.4 116.7,427.9 116.7,425.4 116.7,422.9 116.6,420.4 116.6,417.9 116.6,415.4 116.5,412.9 116.5,410.4 116.5,407.9 116.5,405.4 116.4,402.9 116.4,400.4 116.4,397.9 116.3,395.4 116.3,392.9 116.3,390.4 116.3,387.9 116.2,385.4 116.2,382.9 116.2,380.4 116.1,377.9 116.1,375.4 116.1,372.9 116.0,370.4 116.0,367.9 116.0,365.4 115.9,362.9 115.9,360.4 115.8,357.9 115.8,355.4 115.7,352.9 115.7,350.4 115.6,347.9 115.6,345.4 115.6,342.9 115.5,340.4 115.5,337.9 115.4,335.4 115.4,332.9 115.3,330.4 115.3,327.9 115.3,325.4 115.2,322.9 115.2,320.4 115.1,317.9 115.1,315.4 115.0,312.9 115.0,310.4 115.0,307.9 114.9,305.4 114.9,285.4" fill="rgb(178,178,178)" filter="url(#b0_8)"/>
<polygon points="157.6,285.4 157.6,305.4 157.5,307.9 157.5,310.4 157.5,312.9 157.5,315.4 157.4,317.9 157.4,320.4 157.4,322.9 157.3,325.4 157.3,327.9 157.3,330.4 157.2,332.9 157.2,335.4 157.2,337.9 157.2,340.4 157.1,342.9 157.1,345.4 157.1,347.9 157.0,350.4 157.0,352.9 157.0,355.4 156.9,357.9 156.9,360.4 156.9,362.9 156.8,365.4 156.8,367.9 156.8,370.4 156.8,372.9 156.7,375.4 156.7,377.9 156.7,380.4 156.7,382.9 156.7,385.4 156.6,387.9 156.6,390.4 156.6,392.9 156.6,395.4 156.5,397.9 156.5,400.4 156.5,402.9 156.5,405.4 156.5,407.9 156.4,410.4 156.4,412.9 156.4,415.4 156.4,417.9 156.4,420.4 156.3,422.9 156.3,425.4 156.3,427.9 156.3,430.4 156.3,432.9 156.2,435.4 156.2,437.9 156.2,440.4 156.2,442.9 156.1,445.4 156.1,447.9 156.1,450.4 156.1,452.9 156.1,455.4 156.0,457.9 117.6,457.9 117.5,455.4 117.5,452.9 117.5,450.4 117.5,447.9 117.5,445.4 117.4,442.9 117.4,440.4 117.4,437.9 117.4,435.4 117.3,432.9 117.3,430.4 117.3,427.9 117.3,425.4 117.3,422.9 117.2,420.4 117.2,417.9 117.2,415.4 117.2,412.9 117.2,410.4 117.1,407.9 117.1,405.4 117.1,402.9 117.1,400.4 117.1,397.9 117.0,395.4 117.0,392.9 117.0,390.4 117.0,387.9 116.9,385.4 116.9,382.9 116.9,380.4 116.9,377.9 116.9,375.4 116.8,372.9 116.8,370.4 116.8,367.9 116.8,365.4 116.7,362.9 116.7,360.4 116.7,357.9 116.6,355.4 116.6,352.9 116.6,350.4 116.5,347.9 116.5,345.4 116.5,342.9 116.4,340.4 116.4,337.9 116.4,335.4 116.4,332.9 116.3,330.4 116.3,327.9 116.3,325.4 116.2,322.9 116.2,320.4 116.2,317.9 116.1,315.4 116.1,312.9 116.1,310.4 116.1,307.9 116.0,305.4 116.0,285.4" fill="rgb(199,199,199)" filter="url(#b0_8)"/>
<polygon points="156.5,285.4 156.5,305.4 156.4,307.9 156.4,310.4 156.4,312.9 156.4,315.4 156.4,317.9 156.3,320.4 156.3,322.9 156.3,325.4 156.3,327.9 156.3,330.4 156.3,332.9 156.2,335.4 156.2,337.9 156.2,340.4 156.2,342.9 156.2,345.4 156.2,347.9 156.1,350.4 156.1,352.9 156.1,355.4 156.1,357.9 156.1,360.4 156.1,362.9 156.0,365.4 156.0,367.9 156.0,370.4 156.0,372.9 156.0,375.4 156.0,377.9 155.9,380.4 155.9,382.9 155.9,385.4 155.9,387.9 155.9,390.4 155.9,392.9 155.9,395.4 155.9,397.9 155.8,400.4 155.8,402.9 155.8,405.4 155.8,407.9 155.8,410.4 155.8,412.9 155.8,415.4 155.8,417.9 155.7,420.4 155.7,422.9 155.7,425.4 155.7,427.9 155.7,430.4 155.7,432.9 155.7,435.4 155.6,437.9 155.6,440.4 155.6,442.9 155.6,445.4 155.6,447.9 155.6,450.4 155.6,452.9 155.6,455.4 155.5,457.9 118.1,457.9 118.0,455.4 118.0,452.9 118.0,450.4 118.0,447.9 118.0,445.4 118.0,442.9 118.0,440.4 118.0,437.9 117.9,435.4 117.9,432.9 117.9,430.4 117.9,427.9 117.9,425.4 117.9,422.9 117.9,420.4 117.8,417.9 117.8,415.4 117.8,412.9 117.8,410.4 117.8,407.9 117.8,405.4 117.8,402.9 117.8,400.4 117.7,397.9 117.7,395.4 117.7,392.9 117.7,390.4 117.7,387.9 117.7,385.4 117.7,382.9 117.7,380.4 117.6,377.9 117.6,375.4 117.6,372.9 117.6,370.4 117.6,367.9 117.6,365.4 117.5,362.9 117.5,360.4 117.5,357.9 117.5,355.4 117.5,352.9 117.5,350.4 117.4,347.9 117.4,345.4 117.4,342.9 117.4,340.4 117.4,337.9 117.4,335.4 117.3,332.9 117.3,330.4 117.3,327.9 117.3,325.4 117.3,322.9 117.3,320.4 117.2,317.9 117.2,315.4 117.2,312.9 117.2,310.4 117.2,307.9 117.1,305.4 117.1,285.4" fill="rgb(219,219,219)" filter="url(#b0_8)"/>
<polygon points="155.4,285.4 155.4,305.4 155.4,307.9 155.4,310.4 155.4,312.9 155.4,315.4 155.4,317.9 155.4,320.4 155.4,322.9 155.4,325.4 155.4,327.9 155.4,330.4 155.3,332.9 155.3,335.4 155.3,337.9 155.3,340.4 155.3,342.9 155.3,345.4 155.3,347.9 155.3,350.4 155.3,352.9 155.3,355.4 155.3,357.9 155.3,360.4 155.3,362.9 155.3,365.4 155.3,367.9 155.2,370.4 155.2,372.9 155.2,375.4 155.2,377.9 155.2,380.4 155.2,382.9 155.2,385.4 155.2,387.9 155.2,390.4 155.2,392.9 155.2,395.4 155.2,397.9 155.2,400.4 155.2,402.9 155.2,405.4 155.2,407.9 155.2,410.4 155.2,412.9 155.2,415.4 155.1,417.9 155.1,420.4 155.1,422.9 155.1,425.4 155.1,427.9 155.1,430.4 155.1,432.9 155.1,435.4 155.1,437.9 155.1,440.4 155.1,442.9 155.1,445.4 155.1,447.9 155.1,450.4 155.1,452.9 155.1,455.4 155.1,457.9 118.5,457.9 118.5,455.4 118.5,452.9 118.5,450.4 118.5,447.9 118.5,445.4 118.5,442.9 118.5,440.4 118.5,437.9 118.5,435.4 118.5,432.9 118.5,430.4 118.5,427.9 118.5,425.4 118.5,422.9 118.5,420.4 118.5,417.9 118.4,415.4 118.4,412.9 118.4,410.4 118.4,407.9 118.4,405.4 118.4,402.9 118.4,400.4 118.4,397.9 118.4,395.4 118.4,392.9 118.4,390.4 118.4,387.9 118.4,385.4 118.4,382.9 118.4,380.4 118.4,377.9 118.4,375.4 118.4,372.9 118.4,370.4 118.3,367.9 118.3,365.4 118.3,362.9 118.3,360.4 118.3,357.9 118.3,355.4 118.3,352.9 118.3,350.4 118.3,347.9 118.3,345.4 118.3,342.9 118.3,340.4 118.3,337.9 118.3,335.4 118.3,332.9 118.2,330.4 118.2,327.9 118.2,325.4 118.2,322.9 118.2,320.4 118.2,317.9 118.2,315.4 118.2,312.9 118.2,310.4 118.2,307.9 118.2,305.4 118.2,285.4" fill="rgb(237,237,237)" filter="url(#b0_8)"/>
<polygon points="154.4,285.4 154.4,305.4 154.4,307.9 154.4,310.4 154.4,312.9 154.4,315.4 154.4,317.9 154.4,320.4 154.4,322.9 154.4,325.4 154.4,327.9 154.4,330.4 154.4,332.9 154.4,335.4 154.4,337.9 154.4,340.4 154.4,342.9 154.5,345.4 154.5,347.9 154.5,350.4 154.5,352.9 154.5,355.4 154.5,357.9 154.5,360.4 154.5,362.9 154.5,365.4 154.5,367.9 154.5,370.4 154.5,372.9 154.5,375.4 154.5,377.9 154.5,380.4 154.5,382.9 154.5,385.4 154.5,387.9 154.5,390.4 154.5,392.9 154.5,395.4 154.5,397.9 154.5,400.4 154.5,402.9 154.5,405.4 154.5,407.9 154.5,410.4 154.5,412.9 154.5,415.4 154.5,417.9 154.5,420.4 154.6,422.9 154.6,425.4 154.6,427.9 154.6,430.4 154.6,432.9 154.6,435.4 154.6,437.9 154.6,440.4 154.6,442.9 154.6,445.4 154.6,447.9 154.6,450.4 154.6,452.9 154.6,455.4 154.6,457.9 119.0,457.9 119.0,455.4 119.0,452.9 119.0,450.4 119.0,447.9 119.0,445.4 119.0,442.9 119.0,440.4 119.0,437.9 119.0,435.4 119.0,432.9 119.0,430.4 119.0,427.9 119.0,425.4 119.0,422.9 119.1,420.4 119.1,417.9 119.1,415.4 119.1,412.9 119.1,410.4 119.1,407.9 119.1,405.4 119.1,402.9 119.1,400.4 119.1,397.9 119.1,395.4 119.1,392.9 119.1,390.4 119.1,387.9 119.1,385.4 119.1,382.9 119.1,380.4 119.1,377.9 119.1,375.4 119.1,372.9 119.1,370.4 119.1,367.9 119.1,365.4 119.1,362.9 119.1,360.4 119.1,357.9 119.1,355.4 119.1,352.9 119.1,350.4 119.1,347.9 119.1,345.4 119.2,342.9 119.2,340.4 119.2,337.9 119.2,335.4 119.2,332.9 119.2,330.4 119.2,327.9 119.2,325.4 119.2,322.9 119.2,320.4 119.2,317.9 119.2,315.4 119.2,312.9 119.2,310.4 119.2,307.9 119.2,305.4 119.2,285.4" fill="rgb(255,255,255)" filter="url(#b0_8)"/>
<linearGradient id="td_c" x1="0" y1="0" x2="0" y2="1"><stop offset="0" stop-color="#000" stop-opacity="0.80"/><stop offset="0.12" stop-color="#000" stop-opacity="0.68"/><stop offset="0.25" stop-color="#000" stop-opacity="0.48"/><stop offset="0.5" stop-color="#000" stop-opacity="0.22"/><stop offset="0.75" stop-color="#000" stop-opacity="0.06"/><stop offset="1" stop-color="#000" stop-opacity="0.00"/></linearGradient>
<linearGradient id="mg_c" gradientUnits="userSpaceOnUse" x1="-26.3" y1="0" x2="300.1" y2="0"><stop offset="0.0000" stop-color="#fff"/><stop offset="0.3223" stop-color="#fff"/><stop offset="0.3836" stop-color="#000"/><stop offset="0.6164" stop-color="#000"/><stop offset="0.6777" stop-color="#fff"/><stop offset="1.0000" stop-color="#fff"/></linearGradient>
<mask id="mk_c" maskUnits="userSpaceOnUse" x="-26.3" y="304.4" width="326.4" height="34.0"><rect x="-26.3" y="304.4" width="326.4" height="34.0" fill="url(#mg_c)"/></mask>
<rect x="-26.3" y="305.4" width="326.4" height="32.0" fill="url(#td_c)" mask="url(#mk_c)"/>
</g></g>
<rect x="3.7" y="305.4" width="266.4" height="133.8" fill="none" stroke="#15153a" stroke-width="0.8"/>
<line x1="70.4" y1="305.4" x2="70.4" y2="439.2" stroke="#0a0a3c" stroke-width="0.7"/>
<line x1="136.9" y1="305.4" x2="136.9" y2="439.2" stroke="#0a0a3c" stroke-width="0.7"/>
<line x1="203.2" y1="305.4" x2="203.2" y2="439.2" stroke="#0a0a3c" stroke-width="0.7"/>
<text x="3.7" y="254.0" font-size="14.91" textLength="27.8" lengthAdjust="spacingAndGlyphs" font-weight="bold">3r/s</text>
<text x="41.0" y="254.3" font-size="15.42" textLength="4.2" lengthAdjust="spacingAndGlyphs">(</text>
<text x="46.9" y="254.0" font-size="14.39" textLength="58.6" lengthAdjust="spacingAndGlyphs">0.8W,10s</text>
<text x="107.8" y="254.3" font-size="15.42" textLength="4.2" lengthAdjust="spacingAndGlyphs">)</text>
<text x="3.7" y="273.1" font-size="14.39" textLength="85.6" lengthAdjust="spacingAndGlyphs">Temperature</text>
<text x="4.0" y="291.8" font-size="14.39" textLength="24.1" lengthAdjust="spacingAndGlyphs">Unit</text>
<text x="32.4" y="291.8" font-size="14.39">:</text>
<text x="48.2" y="291.8" font-size="14.39" textLength="7.8" lengthAdjust="spacingAndGlyphs">K</text>
<rect x="211.2" y="288.2" width="55.7" height="6.2" fill="#000"/>
<text x="217.0" y="281.7" font-size="14.00" textLength="44.0" lengthAdjust="spacingAndGlyphs">0.2mm</text>
<path d="M275.0 308.6L288.0 308.6L281.5 298.6Z" fill="#000"/>
<path d="M275.0 428.0L288.0 428.0L281.5 438.6Z" fill="#000"/>
<text x="292.6" y="308.2" font-size="14.00" textLength="22.5" lengthAdjust="spacingAndGlyphs">755</text>
<text x="293.8" y="439.7" font-size="14.00" textLength="22.5" lengthAdjust="spacingAndGlyphs">263</text>
<rect x="295.6" y="317.4" width="11.9" height="102.0" fill="url(#cb)" stroke="#3a2a2a" stroke-width="0.6"/>
<text x="311.3" y="334.0" font-size="14.00" textLength="23.3" lengthAdjust="spacingAndGlyphs">700</text>
<line x1="305.0" y1="330.2" x2="307.5" y2="330.2" stroke="#222" stroke-width="0.6"/>
<text x="311.3" y="355.1" font-size="14.00" textLength="23.3" lengthAdjust="spacingAndGlyphs">600</text>
<line x1="305.0" y1="351.3" x2="307.5" y2="351.3" stroke="#222" stroke-width="0.6"/>
<text x="311.3" y="377.1" font-size="14.00" textLength="23.3" lengthAdjust="spacingAndGlyphs">500</text>
<line x1="305.0" y1="373.3" x2="307.5" y2="373.3" stroke="#222" stroke-width="0.6"/>
<text x="311.3" y="397.0" font-size="14.00" textLength="23.3" lengthAdjust="spacingAndGlyphs">400</text>
<line x1="305.0" y1="393.2" x2="307.5" y2="393.2" stroke="#222" stroke-width="0.6"/>
<text x="311.3" y="417.5" font-size="14.00" textLength="23.3" lengthAdjust="spacingAndGlyphs">300</text>
<line x1="305.0" y1="413.7" x2="307.5" y2="413.7" stroke="#222" stroke-width="0.6"/>
<text x="128.7" y="461.2" font-size="20.0" textLength="21.8" lengthAdjust="spacingAndGlyphs" fill="#111" stroke="#111" stroke-width="0.3">(c)</text>
<clipPath id="clip_d"><rect x="361.2" y="308.4" width="259.6" height="129.8"/></clipPath>
<g clip-path="url(#clip_d)"><g filter="url(#jet)">
<rect x="331.2" y="278.4" width="319.6" height="189.8" fill="rgb(15,15,15)"/>
<polygon points="531.3,288.4 531.3,308.4 530.7,310.9 530.2,313.4 529.6,315.9 529.1,318.4 528.5,320.9 528.0,323.4 527.4,325.9 526.9,328.4 526.3,330.9 525.8,333.4 525.2,335.9 524.7,338.4 524.1,340.9 523.6,343.4 523.1,345.9 522.6,348.4 522.1,350.9 521.6,353.4 521.1,355.9 520.6,358.4 520.1,360.9 519.6,363.4 519.1,365.9 518.6,368.4 518.1,370.9 517.6,373.4 517.1,375.9 516.6,378.4 516.1,380.9 515.5,383.4 514.8,385.9 514.2,388.4 513.6,390.9 513.0,393.4 512.3,395.9 511.7,398.4 511.0,400.9 510.2,403.4 509.3,405.9 508.5,408.4 507.7,410.9 506.8,413.4 506.0,415.9 505.2,418.4 504.3,420.9 502.6,423.4 500.9,425.9 499.1,428.4 497.4,430.9 494.4,433.4 491.4,435.9 491.3,436.2 491.3,436.2 491.2,435.9 488.2,433.4 485.2,430.9 483.5,428.4 481.7,425.9 480.0,423.4 478.3,420.9 477.4,418.4 476.6,415.9 475.8,413.4 474.9,410.9 474.1,408.4 473.3,405.9 472.4,403.4 471.6,400.9 470.9,398.4 470.3,395.9 469.6,393.4 469.0,390.9 468.4,388.4 467.8,385.9 467.1,383.4 466.5,380.9 466.0,378.4 465.5,375.9 465.0,373.4 464.5,370.9 464.0,368.4 463.5,365.9 463.0,363.4 462.5,360.9 462.0,358.4 461.5,355.9 461.0,353.4 460.5,350.9 460.0,348.4 459.5,345.9 459.0,343.4 458.5,340.9 457.9,338.4 457.4,335.9 456.8,333.4 456.3,330.9 455.7,328.4 455.2,325.9 454.6,323.4 454.1,320.9 453.5,318.4 453.0,315.9 452.4,313.4 451.9,310.9 451.3,308.4 451.3,288.4" fill="rgb(20,20,20)" filter="url(#b6)"/>
<polygon points="523.3,288.4 523.3,308.4 523.0,310.9 522.7,313.4 522.5,315.9 522.2,318.4 521.9,320.9 521.6,323.4 521.4,325.9 521.1,328.4 520.8,330.9 520.5,333.4 520.3,335.9 520.0,338.4 519.7,340.9 519.4,343.4 519.1,345.9 518.9,348.4 518.6,350.9 518.3,353.4 518.0,355.9 517.7,358.4 517.4,360.9 517.2,363.4 516.9,365.9 516.6,368.4 516.3,370.9 516.0,373.4 515.8,375.9 515.5,378.4 515.1,380.9 514.6,383.4 514.1,385.9 513.6,388.4 513.1,390.9 512.6,393.4 512.1,395.9 511.6,398.4 511.0,400.9 510.2,403.4 509.3,405.9 508.5,408.4 507.7,410.9 506.8,413.4 506.0,415.9 505.2,418.4 504.3,420.9 502.6,423.4 500.9,425.9 499.1,428.4 497.4,430.9 494.4,433.4 491.4,435.9 491.3,436.2 491.3,436.2 491.2,435.9 488.2,433.4 485.2,430.9 483.5,428.4 481.7,425.9 480.0,423.4 478.3,420.9 477.4,418.4 476.6,415.9 475.8,413.4 474.9,410.9 474.1,408.4 473.3,405.9 472.4,403.4 471.6,400.9 471.0,398.4 470.5,395.9 470.0,393.4 469.5,390.9 469.0,388.4 468.5,385.9 468.0,383.4 467.5,380.9 467.1,378.4 466.8,375.9 466.6,373.4 466.3,370.9 466.0,368.4 465.7,365.9 465.4,363.4 465.2,360.9 464.9,358.4 464.6,355.9 464.3,353.4 464.0,350.9 463.7,348.4 463.5,345.9 463.2,343.4 462.9,340.9 462.6,338.4 462.3,335.9 462.1,333.4 461.8,330.9 461.5,328.4 461.2,325.9 461.0,323.4 460.7,320.9 460.4,318.4 460.1,315.9 459.9,313.4 459.6,310.9 459.3,308.4 459.3,288.4" fill="rgb(28,28,28)" filter="url(#b4_5)"/>
<polygon points="521.5,288.4 521.5,308.4 521.3,310.9 521.1,313.4 520.9,315.9 520.6,318.4 520.4,320.9 520.2,323.4 520.0,325.9 519.8,328.4 519.6,330.9 519.4,333.4 519.2,335.9 518.9,338.4 518.7,340.9 518.5,343.4 518.3,345.9 518.1,348.4 517.8,350.9 517.6,353.4 517.4,355.9 517.2,358.4 517.0,360.9 516.8,363.4 516.5,365.9 516.3,368.4 516.1,370.9 515.9,373.4 515.7,375.9 515.4,378.4 515.1,380.9 514.7,383.4 514.2,385.9 513.8,388.4 513.3,390.9 512.9,393.4 512.4,395.9 512.0,398.4 511.4,400.9 510.6,403.4 509.8,405.9 509.1,408.4 508.3,410.9 507.5,413.4 506.7,415.9 505.9,418.4 505.1,420.9 503.5,423.4 501.8,425.9 500.1,428.4 498.3,430.9 495.7,433.4 493.1,435.9 491.5,438.4 491.3,438.9 491.3,438.9 491.1,438.4 489.5,435.9 486.9,433.4 484.3,430.9 482.5,428.4 480.8,425.9 479.1,423.4 477.5,420.9 476.7,418.4 475.9,415.9 475.1,413.4 474.3,410.9 473.5,408.4 472.8,405.9 472.0,403.4 471.2,400.9 470.6,398.4 470.2,395.9 469.7,393.4 469.3,390.9 468.8,388.4 468.4,385.9 467.9,383.4 467.5,380.9 467.2,378.4 466.9,375.9 466.7,373.4 466.5,370.9 466.3,368.4 466.1,365.9 465.8,363.4 465.6,360.9 465.4,358.4 465.2,355.9 465.0,353.4 464.8,350.9 464.5,348.4 464.3,345.9 464.1,343.4 463.9,340.9 463.7,338.4 463.4,335.9 463.2,333.4 463.0,330.9 462.8,328.4 462.6,325.9 462.4,323.4 462.2,320.9 462.0,318.4 461.7,315.9 461.5,313.4 461.3,310.9 461.1,308.4 461.1,288.4" fill="rgb(38,38,38)" filter="url(#b1)"/>
<polygon points="518.8,288.4 518.8,308.4 518.7,310.9 518.6,313.4 518.4,315.9 518.3,318.4 518.2,320.9 518.1,323.4 518.0,325.9 517.9,328.4 517.7,330.9 517.6,333.4 517.5,335.9 517.4,338.4 517.3,340.9 517.1,343.4 517.0,345.9 516.9,348.4 516.8,350.9 516.6,353.4 516.5,355.9 516.4,358.4 516.3,360.9 516.1,363.4 516.0,365.9 515.9,368.4 515.8,370.9 515.6,373.4 515.5,375.9 515.4,378.4 515.2,380.9 514.8,383.4 514.4,385.9 514.0,388.4 513.7,390.9 513.3,393.4 512.9,395.9 512.5,398.4 512.0,400.9 511.3,403.4 510.6,405.9 509.9,408.4 509.2,410.9 508.5,413.4 507.8,415.9 507.0,418.4 506.3,420.9 504.8,423.4 503.2,425.9 501.7,428.4 499.7,430.9 497.6,433.4 495.5,435.9 493.4,438.4 491.3,440.1 491.3,440.1 489.2,438.4 487.1,435.9 485.0,433.4 482.9,430.9 480.9,428.4 479.4,425.9 477.8,423.4 476.3,420.9 475.6,418.4 474.8,415.9 474.1,413.4 473.4,410.9 472.7,408.4 472.0,405.9 471.3,403.4 470.6,400.9 470.1,398.4 469.7,395.9 469.3,393.4 468.9,390.9 468.6,388.4 468.2,385.9 467.8,383.4 467.4,380.9 467.2,378.4 467.1,375.9 467.0,373.4 466.8,370.9 466.7,368.4 466.6,365.9 466.5,363.4 466.3,360.9 466.2,358.4 466.1,355.9 466.0,353.4 465.8,350.9 465.7,348.4 465.6,345.9 465.5,343.4 465.3,340.9 465.2,338.4 465.1,335.9 465.0,333.4 464.9,330.9 464.7,328.4 464.6,325.9 464.5,323.4 464.4,320.9 464.3,318.4 464.2,315.9 464.0,313.4 463.9,310.9 463.8,308.4 463.8,288.4" fill="rgb(54,54,54)" filter="url(#b1_5)"/>
<polygon points="517.5,288.4 517.5,308.4 517.4,310.9 517.3,313.4 517.2,315.9 517.1,318.4 517.0,320.9 516.9,323.4 516.8,325.9 516.7,328.4 516.6,330.9 516.5,333.4 516.4,335.9 516.3,338.4 516.2,340.9 516.1,343.4 516.0,345.9 515.9,348.4 515.8,350.9 515.7,353.4 515.6,355.9 515.5,358.4 515.4,360.9 515.3,363.4 515.2,365.9 515.1,368.4 515.0,370.9 514.8,373.4 514.7,375.9 514.6,378.4 514.4,380.9 514.1,383.4 513.8,385.9 513.4,388.4 513.1,390.9 512.7,393.4 512.4,395.9 512.1,398.4 511.6,400.9 510.9,403.4 510.2,405.9 509.4,408.4 508.7,410.9 508.0,413.4 507.3,415.9 506.6,418.4 505.8,420.9 504.3,423.4 502.8,425.9 501.2,428.4 499.2,430.9 497.1,433.4 495.0,435.9 492.5,438.4 491.3,439.8 491.3,439.8 490.1,438.4 487.6,435.9 485.5,433.4 483.4,430.9 481.4,428.4 479.8,425.9 478.3,423.4 476.8,420.9 476.0,418.4 475.3,415.9 474.6,413.4 473.9,410.9 473.2,408.4 472.4,405.9 471.7,403.4 471.0,400.9 470.5,398.4 470.2,395.9 469.9,393.4 469.5,390.9 469.2,388.4 468.8,385.9 468.5,383.4 468.2,380.9 468.0,378.4 467.9,375.9 467.8,373.4 467.6,370.9 467.5,368.4 467.4,365.9 467.3,363.4 467.2,360.9 467.1,358.4 467.0,355.9 466.9,353.4 466.8,350.9 466.7,348.4 466.6,345.9 466.5,343.4 466.4,340.9 466.3,338.4 466.2,335.9 466.1,333.4 466.0,330.9 465.9,328.4 465.8,325.9 465.7,323.4 465.6,320.9 465.5,318.4 465.4,315.9 465.3,313.4 465.2,310.9 465.1,308.4 465.1,288.4" fill="rgb(66,66,66)" filter="url(#b0_8)"/>
<polygon points="515.9,288.4 515.9,308.4 515.8,310.9 515.8,313.4 515.7,315.9 515.6,318.4 515.6,320.9 515.5,323.4 515.4,325.9 515.3,328.4 515.3,330.9 515.2,333.4 515.1,335.9 515.1,338.4 515.0,340.9 514.9,343.4 514.8,345.9 514.8,348.4 514.7,350.9 514.6,353.4 514.5,355.9 514.4,358.4 514.3,360.9 514.2,363.4 514.2,365.9 514.1,368.4 514.0,370.9 513.9,373.4 513.8,375.9 513.7,378.4 513.6,380.9 513.3,383.4 513.0,385.9 512.7,388.4 512.4,390.9 512.1,393.4 511.8,395.9 511.5,398.4 511.1,400.9 510.3,403.4 509.6,405.9 508.9,408.4 508.2,410.9 507.4,413.4 506.7,415.9 506.0,418.4 505.2,420.9 503.7,423.4 502.2,425.9 500.6,428.4 498.6,430.9 496.5,433.4 494.4,435.9 491.4,438.4 491.3,438.6 491.3,438.6 491.2,438.4 488.2,435.9 486.1,433.4 484.0,430.9 482.0,428.4 480.4,425.9 478.9,423.4 477.4,420.9 476.6,418.4 475.9,415.9 475.2,413.4 474.4,410.9 473.7,408.4 473.0,405.9 472.3,403.4 471.5,400.9 471.1,398.4 470.8,395.9 470.5,393.4 470.2,390.9 469.9,388.4 469.6,385.9 469.3,383.4 469.0,380.9 468.9,378.4 468.8,375.9 468.7,373.4 468.6,370.9 468.5,368.4 468.4,365.9 468.4,363.4 468.3,360.9 468.2,358.4 468.1,355.9 468.0,353.4 467.9,350.9 467.8,348.4 467.8,345.9 467.7,343.4 467.6,340.9 467.5,338.4 467.5,335.9 467.4,333.4 467.3,330.9 467.3,328.4 467.2,325.9 467.1,323.4 467.0,320.9 467.0,318.4 466.9,315.9 466.8,313.4 466.8,310.9 466.7,308.4 466.7,288.4" fill="rgb(82,82,82)" filter="url(#b1)"/>
<polygon points="514.3,288.4 514.3,308.4 514.3,310.9 514.2,313.4 514.2,315.9 514.1,318.4 514.1,320.9 514.1,323.4 514.0,325.9 514.0,328.4 513.9,330.9 513.9,333.4 513.9,335.9 513.8,338.4 513.8,340.9 513.7,343.4 513.7,345.9 513.6,348.4 513.5,350.9 513.5,353.4 513.4,355.9 513.3,358.4 513.3,360.9 513.2,363.4 513.2,365.9 513.1,368.4 513.0,370.9 513.0,373.4 512.9,375.9 512.8,378.4 512.7,380.9 512.5,383.4 512.2,385.9 511.9,388.4 511.7,390.9 511.4,393.4 511.2,395.9 510.9,398.4 510.6,400.9 509.8,403.4 509.1,405.9 508.3,408.4 507.6,410.9 506.9,413.4 506.1,415.9 505.4,418.4 504.6,420.9 503.1,423.4 501.6,425.9 500.0,428.4 498.0,430.9 496.0,433.4 493.8,435.9 491.3,437.7 491.3,437.7 488.8,435.9 486.6,433.4 484.6,430.9 482.6,428.4 481.0,425.9 479.5,423.4 478.0,420.9 477.2,418.4 476.5,415.9 475.7,413.4 475.0,410.9 474.3,408.4 473.5,405.9 472.8,403.4 472.0,400.9 471.7,398.4 471.4,395.9 471.2,393.4 470.9,390.9 470.7,388.4 470.4,385.9 470.2,383.4 469.9,380.9 469.8,378.4 469.7,375.9 469.6,373.4 469.6,370.9 469.5,368.4 469.4,365.9 469.4,363.4 469.3,360.9 469.3,358.4 469.2,355.9 469.1,353.4 469.1,350.9 469.0,348.4 468.9,345.9 468.9,343.4 468.8,340.9 468.8,338.4 468.7,335.9 468.7,333.4 468.7,330.9 468.6,328.4 468.6,325.9 468.5,323.4 468.5,320.9 468.5,318.4 468.4,315.9 468.4,313.4 468.3,310.9 468.3,308.4 468.3,288.4" fill="rgb(97,97,97)" filter="url(#b1)"/>
<polygon points="512.9,288.4 512.9,308.4 512.9,310.9 512.9,313.4 512.8,315.9 512.8,318.4 512.8,320.9 512.7,323.4 512.7,325.9 512.7,328.4 512.6,330.9 512.6,333.4 512.6,335.9 512.5,338.4 512.5,340.9 512.4,343.4 512.4,345.9 512.3,348.4 512.3,350.9 512.2,353.4 512.2,355.9 512.1,358.4 512.0,360.9 512.0,363.4 511.9,365.9 511.9,368.4 511.8,370.9 511.8,373.4 511.7,375.9 511.7,378.4 511.5,380.9 511.3,383.4 511.1,385.9 510.8,388.4 510.6,390.9 510.4,393.4 510.1,395.9 509.9,398.4 509.6,400.9 508.8,403.4 508.1,405.9 507.4,408.4 506.7,410.9 506.0,413.4 505.2,415.9 504.5,418.4 503.8,420.9 502.4,423.4 500.9,425.9 499.3,428.4 497.4,430.9 495.1,433.4 492.6,435.9 491.3,437.3 491.3,437.3 490.0,435.9 487.5,433.4 485.2,430.9 483.3,428.4 481.7,425.9 480.2,423.4 478.8,420.9 478.1,418.4 477.4,415.9 476.6,413.4 475.9,410.9 475.2,408.4 474.5,405.9 473.8,403.4 473.0,400.9 472.7,398.4 472.5,395.9 472.2,393.4 472.0,390.9 471.8,388.4 471.5,385.9 471.3,383.4 471.1,380.9 470.9,378.4 470.9,375.9 470.8,373.4 470.8,370.9 470.7,368.4 470.7,365.9 470.6,363.4 470.6,360.9 470.5,358.4 470.4,355.9 470.4,353.4 470.3,350.9 470.3,348.4 470.2,345.9 470.2,343.4 470.1,340.9 470.1,338.4 470.0,335.9 470.0,333.4 470.0,330.9 469.9,328.4 469.9,325.9 469.9,323.4 469.8,320.9 469.8,318.4 469.8,315.9 469.7,313.4 469.7,310.9 469.7,308.4 469.7,288.4" fill="rgb(117,117,117)" filter="url(#b1)"/>
<polygon points="511.6,288.4 511.6,308.4 511.5,310.9 511.5,313.4 511.5,315.9 511.5,318.4 511.4,320.9 511.4,323.4 511.4,325.9 511.3,328.4 511.3,330.9 511.3,333.4 511.2,335.9 511.2,338.4 511.2,340.9 511.1,343.4 511.1,345.9 511.0,348.4 511.0,350.9 511.0,353.4 510.9,355.9 510.9,358.4 510.8,360.9 510.8,363.4 510.7,365.9 510.7,368.4 510.6,370.9 510.6,373.4 510.5,375.9 510.5,378.4 510.4,380.9 510.2,383.4 510.0,385.9 509.7,388.4 509.5,390.9 509.3,393.4 509.1,395.9 508.9,398.4 508.6,400.9 507.9,403.4 507.2,405.9 506.5,408.4 505.8,410.9 505.1,413.4 504.4,415.9 503.7,418.4 503.0,420.9 501.6,423.4 500.3,425.9 498.7,428.4 496.8,430.9 494.3,433.4 491.5,435.9 491.3,436.3 491.3,436.3 491.1,435.9 488.3,433.4 485.8,430.9 483.9,428.4 482.3,425.9 481.0,423.4 479.6,420.9 478.9,418.4 478.2,415.9 477.5,413.4 476.8,410.9 476.1,408.4 475.4,405.9 474.7,403.4 474.0,400.9 473.7,398.4 473.5,395.9 473.3,393.4 473.1,390.9 472.9,388.4 472.6,385.9 472.4,383.4 472.2,380.9 472.1,378.4 472.1,375.9 472.0,373.4 472.0,370.9 471.9,368.4 471.9,365.9 471.8,363.4 471.8,360.9 471.7,358.4 471.7,355.9 471.6,353.4 471.6,350.9 471.6,348.4 471.5,345.9 471.5,343.4 471.4,340.9 471.4,338.4 471.4,335.9 471.3,333.4 471.3,330.9 471.3,328.4 471.2,325.9 471.2,323.4 471.2,320.9 471.1,318.4 471.1,315.9 471.1,313.4 471.1,310.9 471.0,308.4 471.0,288.4" fill="rgb(138,138,138)" filter="url(#b1)"/>
<polygon points="510.2,288.4 510.2,308.4 510.2,310.9 510.2,313.4 510.1,315.9 510.1,318.4 510.1,320.9 510.1,323.4 510.0,325.9 510.0,328.4 510.0,330.9 510.0,333.4 509.9,335.9 509.9,338.4 509.9,340.9 509.8,343.4 509.8,345.9 509.8,348.4 509.7,350.9 509.7,353.4 509.7,355.9 509.6,358.4 509.6,360.9 509.5,363.4 509.5,365.9 509.5,368.4 509.4,370.9 509.4,373.4 509.4,375.9 509.3,378.4 509.2,380.9 509.0,383.4 508.8,385.9 508.6,388.4 508.4,390.9 508.2,393.4 508.1,395.9 507.9,398.4 507.6,400.9 506.9,403.4 506.2,405.9 505.5,408.4 504.8,410.9 504.2,413.4 503.5,415.9 502.8,418.4 502.1,420.9 500.9,423.4 499.7,425.9 498.1,428.4 496.2,430.9 493.4,433.4 491.3,435.1 491.3,435.1 489.2,433.4 486.4,430.9 484.6,428.4 482.9,425.9 481.7,423.4 480.5,420.9 479.8,418.4 479.1,415.9 478.4,413.4 477.8,410.9 477.1,408.4 476.4,405.9 475.7,403.4 475.0,400.9 474.7,398.4 474.5,395.9 474.4,393.4 474.2,390.9 474.0,388.4 473.8,385.9 473.6,383.4 473.4,380.9 473.3,378.4 473.2,375.9 473.2,373.4 473.2,370.9 473.1,368.4 473.1,365.9 473.1,363.4 473.0,360.9 473.0,358.4 472.9,355.9 472.9,353.4 472.9,350.9 472.8,348.4 472.8,345.9 472.8,343.4 472.7,340.9 472.7,338.4 472.7,335.9 472.6,333.4 472.6,330.9 472.6,328.4 472.6,325.9 472.5,323.4 472.5,320.9 472.5,318.4 472.5,315.9 472.4,313.4 472.4,310.9 472.4,308.4 472.4,288.4" fill="rgb(158,158,158)" filter="url(#b1)"/>
<polygon points="509.4,288.4 509.4,308.4 509.3,310.9 509.3,313.4 509.3,315.9 509.3,318.4 509.3,320.9 509.2,323.4 509.2,325.9 509.2,328.4 509.2,330.9 509.2,333.4 509.1,335.9 509.1,338.4 509.1,340.9 509.0,343.4 509.0,345.9 509.0,348.4 508.9,350.9 508.9,353.4 508.8,355.9 508.8,358.4 508.7,360.9 508.7,363.4 508.7,365.9 508.6,368.4 508.6,370.9 508.5,373.4 508.5,375.9 508.4,378.4 508.3,380.9 508.1,383.4 507.9,385.9 507.7,388.4 507.5,390.9 507.3,393.4 507.1,395.9 506.9,398.4 506.6,400.9 506.1,403.4 505.5,405.9 504.9,408.4 504.3,410.9 503.7,413.4 503.0,415.9 502.2,418.4 501.4,420.9 500.1,423.4 498.7,425.9 496.8,428.4 493.6,430.9 492.0,433.4 491.3,434.5 491.3,434.5 490.6,433.4 489.0,430.9 485.8,428.4 483.9,425.9 482.5,423.4 481.2,420.9 480.4,418.4 479.6,415.9 478.9,413.4 478.3,410.9 477.7,408.4 477.1,405.9 476.5,403.4 476.0,400.9 475.7,398.4 475.5,395.9 475.3,393.4 475.1,390.9 474.9,388.4 474.7,385.9 474.5,383.4 474.3,380.9 474.2,378.4 474.1,375.9 474.1,373.4 474.0,370.9 474.0,368.4 473.9,365.9 473.9,363.4 473.9,360.9 473.8,358.4 473.8,355.9 473.7,353.4 473.7,350.9 473.6,348.4 473.6,345.9 473.6,343.4 473.5,340.9 473.5,338.4 473.5,335.9 473.4,333.4 473.4,330.9 473.4,328.4 473.4,325.9 473.4,323.4 473.3,320.9 473.3,318.4 473.3,315.9 473.3,313.4 473.3,310.9 473.2,308.4 473.2,288.4" fill="rgb(178,178,178)" filter="url(#b0_8)"/>
<polygon points="508.3,288.4 508.3,308.4 508.3,310.9 508.3,313.4 508.3,315.9 508.2,318.4 508.2,320.9 508.2,323.4 508.2,325.9 508.2,328.4 508.2,330.9 508.1,333.4 508.1,335.9 508.1,338.4 508.1,340.9 508.0,343.4 508.0,345.9 507.9,348.4 507.9,350.9 507.8,353.4 507.8,355.9 507.7,358.4 507.7,360.9 507.6,363.4 507.6,365.9 507.5,368.4 507.5,370.9 507.4,373.4 507.4,375.9 507.3,378.4 507.2,380.9 507.0,383.4 506.8,385.9 506.6,388.4 506.4,390.9 506.2,393.4 506.0,395.9 505.8,398.4 505.5,400.9 505.0,403.4 504.5,405.9 504.1,408.4 503.6,410.9 503.1,413.4 502.5,415.9 501.5,418.4 500.5,420.9 499.2,423.4 497.6,425.9 495.1,428.4 491.3,430.4 491.3,430.4 487.5,428.4 485.1,425.9 483.4,423.4 482.1,420.9 481.1,418.4 480.1,415.9 479.5,413.4 479.0,410.9 478.5,408.4 478.1,405.9 477.6,403.4 477.1,400.9 476.8,398.4 476.6,395.9 476.4,393.4 476.2,390.9 476.0,388.4 475.8,385.9 475.6,383.4 475.4,380.9 475.3,378.4 475.2,375.9 475.2,373.4 475.1,370.9 475.1,368.4 475.0,365.9 475.0,363.4 474.9,360.9 474.9,358.4 474.8,355.9 474.8,353.4 474.7,350.9 474.7,348.4 474.6,345.9 474.6,343.4 474.5,340.9 474.5,338.4 474.5,335.9 474.5,333.4 474.4,330.9 474.4,328.4 474.4,325.9 474.4,323.4 474.4,320.9 474.4,318.4 474.3,315.9 474.3,313.4 474.3,310.9 474.3,308.4 474.3,288.4" fill="rgb(204,204,204)" filter="url(#b0_8)"/>
<polygon points="506.9,288.4 506.9,308.4 506.9,310.9 506.9,313.4 506.9,315.9 506.8,318.4 506.8,320.9 506.8,323.4 506.8,325.9 506.8,328.4 506.8,330.9 506.7,333.4 506.7,335.9 506.7,338.4 506.7,340.9 506.6,343.4 506.6,345.9 506.5,348.4 506.5,350.9 506.4,353.4 506.4,355.9 506.3,358.4 506.3,360.9 506.2,363.4 506.2,365.9 506.1,368.4 506.1,370.9 506.0,373.4 506.0,375.9 505.9,378.4 505.8,380.9 505.6,383.4 505.4,385.9 505.2,388.4 505.0,390.9 504.8,393.4 504.6,395.9 504.4,398.4 504.1,400.9 503.6,403.4 503.2,405.9 502.7,408.4 502.3,410.9 501.8,413.4 501.1,415.9 500.1,418.4 499.1,420.9 497.5,423.4 495.4,425.9 491.3,427.9 491.3,427.9 487.2,425.9 485.1,423.4 483.5,420.9 482.5,418.4 481.5,415.9 480.8,413.4 480.3,410.9 479.9,408.4 479.4,405.9 479.0,403.4 478.5,400.9 478.2,398.4 478.0,395.9 477.8,393.4 477.6,390.9 477.4,388.4 477.2,385.9 477.0,383.4 476.8,380.9 476.7,378.4 476.6,375.9 476.6,373.4 476.5,370.9 476.5,368.4 476.4,365.9 476.4,363.4 476.3,360.9 476.3,358.4 476.2,355.9 476.2,353.4 476.1,350.9 476.1,348.4 476.0,345.9 476.0,343.4 475.9,340.9 475.9,338.4 475.9,335.9 475.9,333.4 475.8,330.9 475.8,328.4 475.8,325.9 475.8,323.4 475.8,320.9 475.8,318.4 475.7,315.9 475.7,313.4 475.7,310.9 475.7,308.4 475.7,288.4" fill="rgb(227,227,227)" filter="url(#b1)"/>
<polygon points="494.8,288.4 494.8,308.4 497.3,330.0 500.3,360.0 502.3,400.0 502.3,418.0 501.8,421.0 491.3,421.5 491.3,421.5 480.8,421.0 480.3,418.0 480.3,400.0 482.3,360.0 485.3,330.0 487.8,308.4 487.8,288.4" fill="rgb(255,255,255)" opacity="0.85" filter="url(#b2_5)"/>
<linearGradient id="td_d" x1="0" y1="0" x2="0" y2="1"><stop offset="0" stop-color="#000" stop-opacity="0.75"/><stop offset="0.12" stop-color="#000" stop-opacity="0.64"/><stop offset="0.25" stop-color="#000" stop-opacity="0.45"/><stop offset="0.5" stop-color="#000" stop-opacity="0.20"/><stop offset="0.75" stop-color="#000" stop-opacity="0.06"/><stop offset="1" stop-color="#000" stop-opacity="0.00"/></linearGradient>
<linearGradient id="mg_d" gradientUnits="userSpaceOnUse" x1="331.2" y1="0" x2="650.8" y2="0"><stop offset="0.0000" stop-color="#fff"/><stop offset="0.3570" stop-color="#fff"/><stop offset="0.4196" stop-color="#000"/><stop offset="0.5823" stop-color="#000"/><stop offset="0.6449" stop-color="#fff"/><stop offset="1.0000" stop-color="#fff"/></linearGradient>
<mask id="mk_d" maskUnits="userSpaceOnUse" x="331.2" y="307.4" width="319.6" height="30.0"><rect x="331.2" y="307.4" width="319.6" height="30.0" fill="url(#mg_d)"/></mask>
<rect x="331.2" y="308.4" width="319.6" height="28.0" fill="url(#td_d)" mask="url(#mk_d)"/>
</g></g>
<rect x="361.2" y="308.4" width="259.6" height="129.8" fill="none" stroke="#15153a" stroke-width="0.8"/>
<line x1="426.5" y1="308.4" x2="426.5" y2="438.2" stroke="#0a0a3c" stroke-width="0.7"/>
<line x1="491.3" y1="308.4" x2="491.3" y2="438.2" stroke="#0a0a3c" stroke-width="0.7"/>
<line x1="556.4" y1="308.4" x2="556.4" y2="438.2" stroke="#0a0a3c" stroke-width="0.7"/>
<text x="360.7" y="257.7" font-size="14.50" textLength="27.0" lengthAdjust="spacingAndGlyphs" font-weight="bold">4r/s</text>
<text x="397.0" y="258.0" font-size="15.00" textLength="4.2" lengthAdjust="spacingAndGlyphs">(</text>
<text x="402.7" y="257.7" font-size="14.00" textLength="57.0" lengthAdjust="spacingAndGlyphs">0.8W,10s</text>
<text x="462.0" y="258.0" font-size="15.00" textLength="4.2" lengthAdjust="spacingAndGlyphs">)</text>
<text x="360.7" y="276.8" font-size="14.00" textLength="83.3" lengthAdjust="spacingAndGlyphs">Temperature</text>
<text x="361.0" y="295.3" font-size="14.00" textLength="23.4" lengthAdjust="spacingAndGlyphs">Unit</text>
<text x="388.6" y="295.3" font-size="14.00">:</text>
<text x="404.0" y="295.3" font-size="14.00" textLength="7.6" lengthAdjust="spacingAndGlyphs">K</text>
<rect x="562.9" y="291.3" width="53.1" height="6.2" fill="#000"/>
<text x="567.5" y="284.6" font-size="14.00" textLength="44.0" lengthAdjust="spacingAndGlyphs">0.2mm</text>
<path d="M623.7 310.9L636.7 310.9L630.2 301.2Z" fill="#000"/>
<path d="M623.7 426.3L636.7 426.3L630.2 436.7Z" fill="#000"/>
<text x="641.5" y="310.5" font-size="14.00" textLength="22.5" lengthAdjust="spacingAndGlyphs">747</text>
<text x="642.3" y="437.8" font-size="14.00" textLength="22.5" lengthAdjust="spacingAndGlyphs">270</text>
<rect x="644.0" y="319.3" width="12.0" height="99.4" fill="url(#cb)" stroke="#3a2a2a" stroke-width="0.6"/>
<text x="659.7" y="335.8" font-size="14.00" textLength="23.3" lengthAdjust="spacingAndGlyphs">700</text>
<line x1="653.5" y1="332.0" x2="656.0" y2="332.0" stroke="#222" stroke-width="0.6"/>
<text x="659.7" y="357.0" font-size="14.00" textLength="23.3" lengthAdjust="spacingAndGlyphs">600</text>
<line x1="653.5" y1="353.2" x2="656.0" y2="353.2" stroke="#222" stroke-width="0.6"/>
<text x="659.7" y="377.4" font-size="14.00" textLength="23.3" lengthAdjust="spacingAndGlyphs">500</text>
<line x1="653.5" y1="373.6" x2="656.0" y2="373.6" stroke="#222" stroke-width="0.6"/>
<text x="659.7" y="397.2" font-size="14.00" textLength="23.3" lengthAdjust="spacingAndGlyphs">400</text>
<line x1="653.5" y1="393.4" x2="656.0" y2="393.4" stroke="#222" stroke-width="0.6"/>
<text x="659.7" y="417.1" font-size="14.00" textLength="23.3" lengthAdjust="spacingAndGlyphs">300</text>
<line x1="653.5" y1="413.3" x2="656.0" y2="413.3" stroke="#222" stroke-width="0.6"/>
<text x="482.0" y="462.0" font-size="20.0" textLength="21.8" lengthAdjust="spacingAndGlyphs" fill="#111" stroke="#111" stroke-width="0.3">(d)</text>
<clipPath id="clip_e"><rect x="6.1" y="540.7" width="263.8" height="124.6"/></clipPath>
<g clip-path="url(#clip_e)"><g filter="url(#jet)">
<rect x="-23.9" y="510.7" width="323.8" height="184.6" fill="rgb(13,13,13)"/>
<polygon points="165.4,520.7 165.4,540.7 164.7,543.2 164.0,545.7 163.3,548.2 162.6,550.7 161.8,553.2 161.1,555.7 160.4,558.2 159.8,560.7 159.4,563.2 158.9,565.7 158.5,568.2 158.1,570.7 157.7,573.2 157.3,575.7 156.9,578.2 156.5,580.7 156.2,583.2 155.8,585.7 155.4,588.2 154.9,590.7 154.3,593.2 153.7,595.7 153.1,598.2 152.5,600.7 151.9,603.2 151.1,605.7 150.2,608.2 149.2,610.7 148.1,613.2 147.0,615.7 145.9,618.2 144.6,620.7 143.3,623.2 142.1,625.7 140.6,628.2 139.2,630.7 138.4,631.8 138.4,631.8 137.6,630.7 136.2,628.2 134.7,625.7 133.5,623.2 132.2,620.7 130.9,618.2 129.8,615.7 128.7,613.2 127.6,610.7 126.6,608.2 125.7,605.7 124.9,603.2 124.3,600.7 123.7,598.2 123.1,595.7 122.5,593.2 121.9,590.7 121.4,588.2 121.0,585.7 120.6,583.2 120.3,580.7 119.9,578.2 119.5,575.7 119.1,573.2 118.7,570.7 118.3,568.2 117.9,565.7 117.4,563.2 117.0,560.7 116.4,558.2 115.7,555.7 115.0,553.2 114.2,550.7 113.5,548.2 112.8,545.7 112.1,543.2 111.4,540.7 111.4,520.7" fill="rgb(18,18,18)" filter="url(#b5)"/>
<polygon points="161.9,520.7 161.9,540.7 161.4,543.2 160.9,545.7 160.3,548.2 159.8,550.7 159.3,553.2 158.8,555.7 158.3,558.2 157.8,560.7 157.5,563.2 157.1,565.7 156.8,568.2 156.4,570.7 156.1,573.2 155.7,575.7 155.4,578.2 155.1,580.7 154.7,583.2 154.4,585.7 154.1,588.2 153.7,590.7 153.1,593.2 152.5,595.7 152.0,598.2 151.4,600.7 150.8,603.2 150.1,605.7 149.2,608.2 148.3,610.7 147.3,613.2 146.2,615.7 145.1,618.2 143.8,620.7 142.6,623.2 141.3,625.7 139.8,628.2 138.4,629.7 138.4,629.7 137.0,628.2 135.5,625.7 134.2,623.2 133.0,620.7 131.7,618.2 130.6,615.7 129.5,613.2 128.5,610.7 127.6,608.2 126.7,605.7 126.0,603.2 125.4,600.7 124.8,598.2 124.3,595.7 123.7,593.2 123.1,590.7 122.7,588.2 122.4,585.7 122.1,583.2 121.7,580.7 121.4,578.2 121.1,575.7 120.7,573.2 120.4,570.7 120.0,568.2 119.7,565.7 119.3,563.2 119.0,560.7 118.5,558.2 118.0,555.7 117.5,553.2 117.0,550.7 116.5,548.2 115.9,545.7 115.4,543.2 114.9,540.7 114.9,520.7" fill="rgb(26,26,26)" filter="url(#b2)"/>
<polygon points="160.6,520.7 160.6,540.7 160.1,543.2 159.7,545.7 159.2,548.2 158.7,550.7 158.3,553.2 157.8,555.7 157.4,558.2 157.0,560.7 156.7,563.2 156.3,565.7 156.0,568.2 155.7,570.7 155.4,573.2 155.1,575.7 154.8,578.2 154.5,580.7 154.1,583.2 153.8,585.7 153.5,588.2 153.1,590.7 152.5,593.2 152.0,595.7 151.4,598.2 150.9,600.7 150.3,603.2 149.6,605.7 148.7,608.2 147.8,610.7 146.8,613.2 145.7,615.7 144.6,618.2 143.3,620.7 142.0,623.2 140.7,625.7 139.3,628.2 138.4,629.4 138.4,629.4 137.5,628.2 136.1,625.7 134.8,623.2 133.5,620.7 132.2,618.2 131.1,615.7 130.0,613.2 129.0,610.7 128.1,608.2 127.2,605.7 126.5,603.2 125.9,600.7 125.4,598.2 124.8,595.7 124.3,593.2 123.7,590.7 123.3,588.2 123.0,585.7 122.7,583.2 122.3,580.7 122.0,578.2 121.7,575.7 121.4,573.2 121.1,570.7 120.8,568.2 120.5,565.7 120.1,563.2 119.8,560.7 119.4,558.2 119.0,555.7 118.5,553.2 118.1,550.7 117.6,548.2 117.1,545.7 116.7,543.2 116.2,540.7 116.2,520.7" fill="rgb(36,36,36)" filter="url(#b0_7)"/>
<polygon points="158.9,520.7 158.9,540.7 158.5,543.2 158.1,545.7 157.8,548.2 157.4,550.7 157.0,553.2 156.6,555.7 156.3,558.2 155.9,560.7 155.7,563.2 155.4,565.7 155.1,568.2 154.9,570.7 154.6,573.2 154.3,575.7 154.0,578.2 153.7,580.7 153.4,583.2 153.1,585.7 152.8,588.2 152.4,590.7 151.8,593.2 151.3,595.7 150.8,598.2 150.2,600.7 149.7,603.2 149.0,605.7 148.1,608.2 147.2,610.7 146.2,613.2 145.1,615.7 144.0,618.2 142.7,620.7 141.4,623.2 140.0,625.7 138.6,628.2 138.4,628.6 138.4,628.6 138.2,628.2 136.8,625.7 135.4,623.2 134.1,620.7 132.8,618.2 131.7,615.7 130.6,613.2 129.6,610.7 128.7,608.2 127.8,605.7 127.1,603.2 126.6,600.7 126.0,598.2 125.5,595.7 125.0,593.2 124.4,590.7 124.0,588.2 123.7,585.7 123.4,583.2 123.1,580.7 122.8,578.2 122.5,575.7 122.2,573.2 121.9,570.7 121.7,568.2 121.4,565.7 121.1,563.2 120.9,560.7 120.5,558.2 120.2,555.7 119.8,553.2 119.4,550.7 119.0,548.2 118.7,545.7 118.3,543.2 117.9,540.7 117.9,520.7" fill="rgb(48,48,48)" filter="url(#b1)"/>
<polygon points="158.0,520.7 158.0,540.7 157.6,543.2 157.3,545.7 157.0,548.2 156.7,550.7 156.3,553.2 156.0,555.7 155.7,558.2 155.4,560.7 155.1,563.2 154.9,565.7 154.7,568.2 154.4,570.7 154.2,573.2 153.9,575.7 153.6,578.2 153.3,580.7 153.0,583.2 152.6,585.7 152.3,588.2 151.9,590.7 151.4,593.2 150.9,595.7 150.4,598.2 149.8,600.7 149.3,603.2 148.6,605.7 147.7,608.2 146.8,610.7 145.8,613.2 144.7,615.7 143.6,618.2 142.3,620.7 141.0,623.2 139.7,625.7 138.4,627.9 138.4,627.9 137.1,625.7 135.8,623.2 134.5,620.7 133.2,618.2 132.1,615.7 131.0,613.2 130.0,610.7 129.1,608.2 128.2,605.7 127.5,603.2 127.0,600.7 126.4,598.2 125.9,595.7 125.4,593.2 124.9,590.7 124.5,588.2 124.2,585.7 123.8,583.2 123.5,580.7 123.2,578.2 122.9,575.7 122.6,573.2 122.4,570.7 122.1,568.2 121.9,565.7 121.7,563.2 121.4,560.7 121.1,558.2 120.8,555.7 120.5,553.2 120.1,550.7 119.8,548.2 119.5,545.7 119.2,543.2 118.8,540.7 118.8,520.7" fill="rgb(64,64,64)" filter="url(#b0_7)"/>
<polygon points="157.0,520.7 157.0,540.7 156.7,543.2 156.5,545.7 156.2,548.2 155.9,550.7 155.7,553.2 155.4,555.7 155.1,558.2 154.9,560.7 154.6,563.2 154.4,565.7 154.2,568.2 154.0,570.7 153.7,573.2 153.5,575.7 153.2,578.2 152.9,580.7 152.5,583.2 152.2,585.7 151.9,588.2 151.5,590.7 151.0,593.2 150.5,595.7 150.0,598.2 149.5,600.7 148.9,603.2 148.2,605.7 147.3,608.2 146.4,610.7 145.4,613.2 144.3,615.7 143.2,618.2 142.0,620.7 140.7,623.2 139.4,625.7 138.4,627.3 138.4,627.3 137.4,625.7 136.1,623.2 134.8,620.7 133.6,618.2 132.5,615.7 131.4,613.2 130.4,610.7 129.5,608.2 128.6,605.7 127.9,603.2 127.3,600.7 126.8,598.2 126.3,595.7 125.8,593.2 125.3,590.7 124.9,588.2 124.6,585.7 124.3,583.2 123.9,580.7 123.6,578.2 123.3,575.7 123.1,573.2 122.8,570.7 122.6,568.2 122.4,565.7 122.2,563.2 121.9,560.7 121.7,558.2 121.4,555.7 121.1,553.2 120.9,550.7 120.6,548.2 120.3,545.7 120.1,543.2 119.8,540.7 119.8,520.7" fill="rgb(79,79,79)" filter="url(#b0_7)"/>
<polygon points="155.9,520.7 155.9,540.7 155.7,543.2 155.5,545.7 155.3,548.2 155.1,550.7 154.9,553.2 154.7,555.7 154.4,558.2 154.2,560.7 154.0,563.2 153.8,565.7 153.6,568.2 153.4,570.7 153.2,573.2 153.0,575.7 152.7,578.2 152.4,580.7 152.0,583.2 151.7,585.7 151.4,588.2 151.0,590.7 150.5,593.2 150.0,595.7 149.5,598.2 149.0,600.7 148.5,603.2 147.8,605.7 146.9,608.2 146.0,610.7 145.0,613.2 143.9,615.7 142.8,618.2 141.5,620.7 140.3,623.2 139.0,625.7 138.4,626.7 138.4,626.7 137.8,625.7 136.5,623.2 135.3,620.7 134.0,618.2 132.9,615.7 131.8,613.2 130.8,610.7 129.9,608.2 129.0,605.7 128.3,603.2 127.8,600.7 127.3,598.2 126.8,595.7 126.3,593.2 125.8,590.7 125.4,588.2 125.1,585.7 124.8,583.2 124.4,580.7 124.1,578.2 123.8,575.7 123.6,573.2 123.4,570.7 123.2,568.2 123.0,565.7 122.8,563.2 122.6,560.7 122.4,558.2 122.1,555.7 121.9,553.2 121.7,550.7 121.5,548.2 121.3,545.7 121.1,543.2 120.9,540.7 120.9,520.7" fill="rgb(97,97,97)" filter="url(#b0_7)"/>
<polygon points="155.2,520.7 155.2,540.7 155.0,543.2 154.8,545.7 154.6,548.2 154.4,550.7 154.2,553.2 154.1,555.7 153.9,558.2 153.7,560.7 153.5,563.2 153.3,565.7 153.1,568.2 152.9,570.7 152.8,573.2 152.5,575.7 152.2,578.2 151.9,580.7 151.6,583.2 151.3,585.7 151.0,588.2 150.6,590.7 150.1,593.2 149.6,595.7 149.1,598.2 148.6,600.7 148.1,603.2 147.4,605.7 146.5,608.2 145.6,610.7 144.6,613.2 143.4,615.7 142.3,618.2 140.9,620.7 139.3,623.2 138.5,625.7 138.4,625.9 138.4,625.9 138.3,625.7 137.5,623.2 135.9,620.7 134.5,618.2 133.4,615.7 132.2,613.2 131.2,610.7 130.3,608.2 129.4,605.7 128.7,603.2 128.2,600.7 127.7,598.2 127.2,595.7 126.7,593.2 126.2,590.7 125.8,588.2 125.5,585.7 125.2,583.2 124.9,580.7 124.6,578.2 124.3,575.7 124.0,573.2 123.9,570.7 123.7,568.2 123.5,565.7 123.3,563.2 123.1,560.7 122.9,558.2 122.7,555.7 122.6,553.2 122.4,550.7 122.2,548.2 122.0,545.7 121.8,543.2 121.6,540.7 121.6,520.7" fill="rgb(117,117,117)" filter="url(#b0_7)"/>
<polygon points="154.4,520.7 154.4,540.7 154.3,543.2 154.1,545.7 153.9,548.2 153.8,550.7 153.6,553.2 153.4,555.7 153.3,558.2 153.1,560.7 153.0,563.2 152.8,565.7 152.6,568.2 152.5,570.7 152.3,573.2 152.1,575.7 151.8,578.2 151.5,580.7 151.2,583.2 150.9,585.7 150.6,588.2 150.2,590.7 149.8,593.2 149.3,595.7 148.8,598.2 148.3,600.7 147.8,603.2 147.0,605.7 146.2,608.2 145.3,610.7 144.2,613.2 143.0,615.7 141.8,618.2 140.3,620.7 138.4,623.2 138.4,623.2 136.5,620.7 135.0,618.2 133.8,615.7 132.6,613.2 131.5,610.7 130.6,608.2 129.8,605.7 129.0,603.2 128.5,600.7 128.0,598.2 127.5,595.7 127.0,593.2 126.6,590.7 126.2,588.2 125.9,585.7 125.6,583.2 125.3,580.7 125.0,578.2 124.7,575.7 124.5,573.2 124.3,570.7 124.2,568.2 124.0,565.7 123.8,563.2 123.7,560.7 123.5,558.2 123.4,555.7 123.2,553.2 123.0,550.7 122.9,548.2 122.7,545.7 122.5,543.2 122.4,540.7 122.4,520.7" fill="rgb(138,138,138)" filter="url(#b0_7)"/>
<polygon points="153.7,520.7 153.7,540.7 153.6,543.2 153.4,545.7 153.3,548.2 153.1,550.7 153.0,553.2 152.8,555.7 152.7,558.2 152.6,560.7 152.4,563.2 152.3,565.7 152.1,568.2 152.0,570.7 151.8,573.2 151.6,575.7 151.3,578.2 151.1,580.7 150.8,583.2 150.5,585.7 150.3,588.2 149.9,590.7 149.4,593.2 148.9,595.7 148.4,598.2 147.9,600.7 147.4,603.2 146.7,605.7 145.8,608.2 145.0,610.7 143.8,613.2 142.6,615.7 141.3,618.2 139.7,620.7 138.4,622.1 138.4,622.1 137.1,620.7 135.5,618.2 134.2,615.7 133.0,613.2 131.8,610.7 131.0,608.2 130.1,605.7 129.4,603.2 128.9,600.7 128.4,598.2 127.9,595.7 127.4,593.2 126.9,590.7 126.5,588.2 126.3,585.7 126.0,583.2 125.7,580.7 125.5,578.2 125.2,575.7 125.0,573.2 124.8,570.7 124.7,568.2 124.5,565.7 124.4,563.2 124.2,560.7 124.1,558.2 124.0,555.7 123.8,553.2 123.7,550.7 123.5,548.2 123.4,545.7 123.2,543.2 123.1,540.7 123.1,520.7" fill="rgb(158,158,158)" filter="url(#b0_7)"/>
<polygon points="153.2,520.7 153.2,540.7 153.0,543.2 152.9,545.7 152.7,548.2 152.6,550.7 152.5,553.2 152.3,555.7 152.2,558.2 152.0,560.7 151.9,563.2 151.7,565.7 151.6,568.2 151.4,570.7 151.3,573.2 151.1,575.7 150.9,578.2 150.6,580.7 150.4,583.2 150.1,585.7 149.9,588.2 149.5,590.7 149.0,593.2 148.5,595.7 148.0,598.2 147.5,600.7 147.0,603.2 146.3,605.7 145.5,608.2 144.6,610.7 143.4,613.2 141.9,615.7 140.4,618.2 138.7,620.7 138.4,621.2 138.4,621.2 138.1,620.7 136.4,618.2 134.9,615.7 133.4,613.2 132.2,610.7 131.3,608.2 130.5,605.7 129.8,603.2 129.3,600.7 128.8,598.2 128.3,595.7 127.8,593.2 127.3,590.7 126.9,588.2 126.7,585.7 126.4,583.2 126.2,580.7 125.9,578.2 125.7,575.7 125.5,573.2 125.4,570.7 125.2,568.2 125.1,565.7 124.9,563.2 124.8,560.7 124.6,558.2 124.5,555.7 124.3,553.2 124.2,550.7 124.1,548.2 123.9,545.7 123.8,543.2 123.6,540.7 123.6,520.7" fill="rgb(178,178,178)" filter="url(#b0_7)"/>
<polygon points="152.5,520.7 152.5,540.7 152.4,543.2 152.2,545.7 152.1,548.2 151.9,550.7 151.8,553.2 151.6,555.7 151.5,558.2 151.4,560.7 151.2,563.2 151.1,565.7 150.9,568.2 150.8,570.7 150.6,573.2 150.4,575.7 150.2,578.2 150.0,580.7 149.8,583.2 149.6,585.7 149.4,588.2 149.1,590.7 148.6,593.2 148.1,595.7 147.6,598.2 147.1,600.7 146.6,603.2 145.9,605.7 145.0,608.2 144.2,610.7 142.8,613.2 141.1,615.7 139.3,618.2 138.4,619.4 138.4,619.4 137.5,618.2 135.7,615.7 134.0,613.2 132.6,610.7 131.8,608.2 130.9,605.7 130.2,603.2 129.7,600.7 129.2,598.2 128.7,595.7 128.2,593.2 127.7,590.7 127.4,588.2 127.2,585.7 127.0,583.2 126.8,580.7 126.6,578.2 126.4,575.7 126.2,573.2 126.0,570.7 125.9,568.2 125.7,565.7 125.6,563.2 125.4,560.7 125.3,558.2 125.2,555.7 125.0,553.2 124.9,550.7 124.7,548.2 124.6,545.7 124.4,543.2 124.3,540.7 124.3,520.7" fill="rgb(204,204,204)" filter="url(#b0_7)"/>
<polygon points="151.4,520.7 151.4,540.7 151.3,543.2 151.1,545.7 151.0,548.2 150.9,550.7 150.8,553.2 150.6,555.7 150.5,558.2 150.4,560.7 150.2,563.2 150.1,565.7 149.9,568.2 149.8,570.7 149.6,573.2 149.4,575.7 149.2,578.2 149.0,580.7 148.8,583.2 148.6,585.7 148.4,588.2 148.1,590.7 147.6,593.2 147.1,595.7 146.7,598.2 146.2,600.7 145.7,603.2 145.0,605.7 144.1,608.2 143.3,610.7 141.7,613.2 139.8,615.7 138.4,617.2 138.4,617.2 137.0,615.7 135.1,613.2 133.5,610.7 132.7,608.2 131.8,605.7 131.1,603.2 130.6,600.7 130.1,598.2 129.7,595.7 129.2,593.2 128.7,590.7 128.4,588.2 128.2,585.7 128.0,583.2 127.8,580.7 127.6,578.2 127.4,575.7 127.2,573.2 127.0,570.7 126.9,568.2 126.7,565.7 126.6,563.2 126.4,560.7 126.3,558.2 126.2,555.7 126.0,553.2 125.9,550.7 125.8,548.2 125.7,545.7 125.5,543.2 125.4,540.7 125.4,520.7" fill="rgb(227,227,227)" filter="url(#b0_7)"/>
<polygon points="140.9,520.7 140.9,540.7 142.9,570.0 145.4,595.0 145.6,606.0 144.4,611.8 138.4,612.3 138.4,612.3 132.4,611.8 131.2,606.0 131.4,595.0 133.9,570.0 135.9,540.7 135.9,520.7" fill="rgb(255,255,255)" opacity="0.85" filter="url(#b1_5)"/>
<linearGradient id="td_e" x1="0" y1="0" x2="0" y2="1"><stop offset="0" stop-color="#000" stop-opacity="0.72"/><stop offset="0.12" stop-color="#000" stop-opacity="0.61"/><stop offset="0.25" stop-color="#000" stop-opacity="0.43"/><stop offset="0.5" stop-color="#000" stop-opacity="0.19"/><stop offset="0.75" stop-color="#000" stop-opacity="0.06"/><stop offset="1" stop-color="#000" stop-opacity="0.00"/></linearGradient>
<linearGradient id="mg_e" gradientUnits="userSpaceOnUse" x1="-23.9" y1="0" x2="299.9" y2="0"><stop offset="0.0000" stop-color="#fff"/><stop offset="0.3808" stop-color="#fff"/><stop offset="0.4426" stop-color="#000"/><stop offset="0.5599" stop-color="#000"/><stop offset="0.6217" stop-color="#fff"/><stop offset="1.0000" stop-color="#fff"/></linearGradient>
<mask id="mk_e" maskUnits="userSpaceOnUse" x="-23.9" y="539.7" width="323.8" height="28.0"><rect x="-23.9" y="539.7" width="323.8" height="28.0" fill="url(#mg_e)"/></mask>
<rect x="-23.9" y="540.7" width="323.8" height="26.0" fill="url(#td_e)" mask="url(#mk_e)"/>
</g></g>
<rect x="6.1" y="540.7" width="263.8" height="124.6" fill="none" stroke="#15153a" stroke-width="0.8"/>
<line x1="72.4" y1="540.7" x2="72.4" y2="665.3" stroke="#0a0a3c" stroke-width="0.7"/>
<line x1="138.4" y1="540.7" x2="138.4" y2="665.3" stroke="#0a0a3c" stroke-width="0.7"/>
<line x1="204.0" y1="540.7" x2="204.0" y2="665.3" stroke="#0a0a3c" stroke-width="0.7"/>
<text x="6.0" y="492.5" font-size="14.72" textLength="27.4" lengthAdjust="spacingAndGlyphs" font-weight="bold">5r/s</text>
<text x="42.8" y="492.8" font-size="15.22" textLength="4.2" lengthAdjust="spacingAndGlyphs">(</text>
<text x="48.6" y="492.5" font-size="14.21" textLength="57.9" lengthAdjust="spacingAndGlyphs">0.8W,10s</text>
<text x="108.8" y="492.8" font-size="15.22" textLength="4.2" lengthAdjust="spacingAndGlyphs">)</text>
<text x="6.0" y="511.1" font-size="14.21" textLength="84.5" lengthAdjust="spacingAndGlyphs">Temperature</text>
<text x="6.3" y="528.3" font-size="14.21" textLength="23.8" lengthAdjust="spacingAndGlyphs">Unit</text>
<text x="34.3" y="528.3" font-size="14.21">:</text>
<text x="49.9" y="528.3" font-size="14.21" textLength="7.7" lengthAdjust="spacingAndGlyphs">K</text>
<rect x="210.7" y="524.7" width="54.2" height="5.9" fill="#000"/>
<text x="215.8" y="518.4" font-size="14.00" textLength="44.0" lengthAdjust="spacingAndGlyphs">0.2mm</text>
<path d="M273.1 543.6L286.1 543.6L279.6 534.1Z" fill="#000"/>
<path d="M273.1 654.1L286.1 654.1L279.6 664.1Z" fill="#000"/>
<text x="290.6" y="543.2" font-size="14.00" textLength="22.5" lengthAdjust="spacingAndGlyphs">730</text>
<text x="291.3" y="664.7" font-size="14.00" textLength="22.5" lengthAdjust="spacingAndGlyphs">266</text>
<rect x="293.6" y="551.6" width="11.0" height="95.5" fill="url(#cb)" stroke="#3a2a2a" stroke-width="0.6"/>
<text x="308.8" y="562.5" font-size="14.00" textLength="23.3" lengthAdjust="spacingAndGlyphs">700</text>
<line x1="302.1" y1="558.7" x2="304.6" y2="558.7" stroke="#222" stroke-width="0.6"/>
<text x="308.8" y="583.8" font-size="14.00" textLength="23.3" lengthAdjust="spacingAndGlyphs">600</text>
<line x1="302.1" y1="580.0" x2="304.6" y2="580.0" stroke="#222" stroke-width="0.6"/>
<text x="308.8" y="604.3" font-size="14.00" textLength="23.3" lengthAdjust="spacingAndGlyphs">500</text>
<line x1="302.1" y1="600.5" x2="304.6" y2="600.5" stroke="#222" stroke-width="0.6"/>
<text x="308.8" y="624.3" font-size="14.00" textLength="23.3" lengthAdjust="spacingAndGlyphs">400</text>
<line x1="302.1" y1="620.5" x2="304.6" y2="620.5" stroke="#222" stroke-width="0.6"/>
<text x="308.8" y="643.8" font-size="14.00" textLength="23.3" lengthAdjust="spacingAndGlyphs">300</text>
<line x1="302.1" y1="640.0" x2="304.6" y2="640.0" stroke="#222" stroke-width="0.6"/>
<text x="128.5" y="686.0" font-size="20.0" textLength="21.2" lengthAdjust="spacingAndGlyphs" fill="#111" stroke="#111" stroke-width="0.3">(e)</text>
<defs>
<filter id="b0_7" x="-50%" y="-50%" width="200%" height="200%" color-interpolation-filters="sRGB"><feGaussianBlur stdDeviation="0.7"/></filter>
<filter id="b0_8" x="-50%" y="-50%" width="200%" height="200%" color-interpolation-filters="sRGB"><feGaussianBlur stdDeviation="0.8"/></filter>
<filter id="b1" x="-50%" y="-50%" width="200%" height="200%" color-interpolation-filters="sRGB"><feGaussianBlur stdDeviation="1"/></filter>
<filter id="b1_5" x="-50%" y="-50%" width="200%" height="200%" color-interpolation-filters="sRGB"><feGaussianBlur stdDeviation="1.5"/></filter>
<filter id="b2" x="-50%" y="-50%" width="200%" height="200%" color-interpolation-filters="sRGB"><feGaussianBlur stdDeviation="2"/></filter>
<filter id="b2_5" x="-50%" y="-50%" width="200%" height="200%" color-interpolation-filters="sRGB"><feGaussianBlur stdDeviation="2.5"/></filter>
<filter id="b3_5" x="-50%" y="-50%" width="200%" height="200%" color-interpolation-filters="sRGB"><feGaussianBlur stdDeviation="3.5"/></filter>
<filter id="b4" x="-50%" y="-50%" width="200%" height="200%" color-interpolation-filters="sRGB"><feGaussianBlur stdDeviation="4"/></filter>
<filter id="b4_5" x="-50%" y="-50%" width="200%" height="200%" color-interpolation-filters="sRGB"><feGaussianBlur stdDeviation="4.5"/></filter>
<filter id="b5" x="-50%" y="-50%" width="200%" height="200%" color-interpolation-filters="sRGB"><feGaussianBlur stdDeviation="5"/></filter>
<filter id="b5_5" x="-50%" y="-50%" width="200%" height="200%" color-interpolation-filters="sRGB"><feGaussianBlur stdDeviation="5.5"/></filter>
<filter id="b6" x="-50%" y="-50%" width="200%" height="200%" color-interpolation-filters="sRGB"><feGaussianBlur stdDeviation="6"/></filter>
<filter id="b9" x="-50%" y="-50%" width="200%" height="200%" color-interpolation-filters="sRGB"><feGaussianBlur stdDeviation="9"/></filter>
<filter id="b10" x="-50%" y="-50%" width="200%" height="200%" color-interpolation-filters="sRGB"><feGaussianBlur stdDeviation="10"/></filter>
</defs>
</svg></body></html>
